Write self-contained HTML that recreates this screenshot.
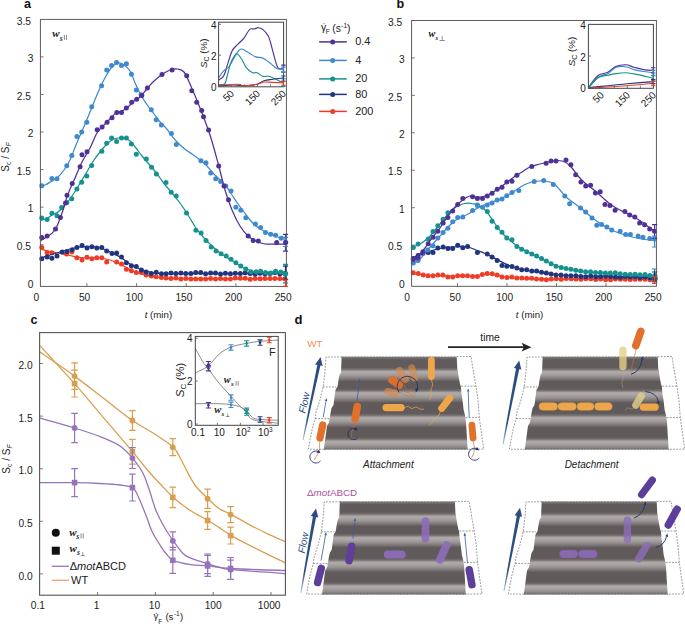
<!DOCTYPE html>
<html><head><meta charset="utf-8"><style>
html,body{margin:0;padding:0;background:#fff;width:685px;height:624px;overflow:hidden}
svg{display:block}
text{font-family:"Liberation Sans",sans-serif;fill:#222}
.tk{font-size:10.2px}
.tl{font-size:9.7px}
.pl{font-size:12.6px;font-weight:bold;fill:#111}
.yl{font-size:10px}
.wl{font-family:"Liberation Serif",serif;font-style:italic;font-weight:bold;font-size:11px}
.lg{font-size:10.9px}
.lg2{font-size:10.4px}
.lgc{font-size:11px}
.tki{font-size:10px}
.sci{font-size:11.5px}
.sca{font-size:9.8px}
.flow{font-size:10px;font-style:italic;fill:#2d4c80}
.dt{font-size:9.8px}
.dti{font-size:10px;font-style:italic}
</style></head><body>
<svg width="685" height="624" viewBox="0 0 685 624">
<text x="0" y="0" transform="translate(8.6,157) rotate(-90)" text-anchor="middle" class="yl">S<tspan dy="2.5" font-size="7">c</tspan><tspan dy="-2.5"> / S</tspan><tspan dy="2.5" font-size="7" font-style="italic">F</tspan></text>
<text x="33.4" y="287.5" text-anchor="end" class="tk">0</text><line x1="40.4" y1="244.73" x2="43.6" y2="244.73" stroke="#666" stroke-width="0.9"/><text x="31.0" y="249.9" text-anchor="end" class="tk">0.5</text><line x1="40.4" y1="207.16" x2="43.6" y2="207.16" stroke="#666" stroke-width="0.9"/><text x="33.4" y="212.4" text-anchor="end" class="tk">1</text><line x1="40.4" y1="169.59" x2="43.6" y2="169.59" stroke="#666" stroke-width="0.9"/><text x="31.0" y="174.8" text-anchor="end" class="tk">1.5</text><line x1="40.4" y1="132.02" x2="43.6" y2="132.02" stroke="#666" stroke-width="0.9"/><text x="33.4" y="137.2" text-anchor="end" class="tk">2</text><line x1="40.4" y1="94.45" x2="43.6" y2="94.45" stroke="#666" stroke-width="0.9"/><text x="31.0" y="99.7" text-anchor="end" class="tk">2.5</text><line x1="40.4" y1="56.88" x2="43.6" y2="56.88" stroke="#666" stroke-width="0.9"/><text x="33.4" y="62.1" text-anchor="end" class="tk">3</text><text x="31.0" y="24.5" text-anchor="end" class="tk">3.5</text><text x="36.3" y="300.9" text-anchor="middle" class="tk">0</text><line x1="86.9" y1="286.4" x2="86.9" y2="283.2" stroke="#666" stroke-width="0.9"/><text x="84.6" y="300.9" text-anchor="middle" class="tk">50</text><line x1="136.6" y1="286.4" x2="136.6" y2="283.2" stroke="#666" stroke-width="0.9"/><text x="134.3" y="300.9" text-anchor="middle" class="tk">100</text><line x1="186.2" y1="286.4" x2="186.2" y2="283.2" stroke="#666" stroke-width="0.9"/><text x="183.9" y="300.9" text-anchor="middle" class="tk">150</text><line x1="235.9" y1="286.4" x2="235.9" y2="283.2" stroke="#666" stroke-width="0.9"/><text x="233.6" y="300.9" text-anchor="middle" class="tk">200</text><text x="283.2" y="300.9" text-anchor="middle" class="tk">250</text><g fill="#ee3d27"><circle cx="41.8" cy="247.4" r="2.5"/><circle cx="47.1" cy="252.7" r="2.5"/><circle cx="51.9" cy="252.7" r="2.5"/><circle cx="66.5" cy="254.0" r="2.5"/><circle cx="71.8" cy="252.1" r="2.5"/><circle cx="76.9" cy="257.8" r="2.5"/><circle cx="82.0" cy="260.1" r="2.5"/><circle cx="87.0" cy="257.2" r="2.5"/><circle cx="91.9" cy="258.8" r="2.5"/><circle cx="96.8" cy="257.8" r="2.5"/><circle cx="101.8" cy="257.8" r="2.5"/><circle cx="106.7" cy="262.0" r="2.5"/><circle cx="116.6" cy="262.0" r="2.5"/><circle cx="121.5" cy="263.9" r="2.5"/><circle cx="126.4" cy="269.2" r="2.5"/><circle cx="131.4" cy="270.7" r="2.5"/><circle cx="136.3" cy="272.6" r="2.5"/><circle cx="141.4" cy="272.6" r="2.5"/><circle cx="146.2" cy="274.9" r="2.5"/><circle cx="151.3" cy="276.0" r="2.5"/><circle cx="156.2" cy="276.8" r="2.5"/><circle cx="161.4" cy="277.6" r="2.5"/><circle cx="166.1" cy="277.9" r="2.5"/><circle cx="171.0" cy="278.4" r="2.5"/><circle cx="175.9" cy="278.0" r="2.5"/><circle cx="180.9" cy="279.0" r="2.5"/><circle cx="185.8" cy="278.6" r="2.5"/><circle cx="190.8" cy="278.9" r="2.5"/><circle cx="195.7" cy="279.1" r="2.5"/><circle cx="200.7" cy="278.9" r="2.5"/><circle cx="205.6" cy="279.1" r="2.5"/><circle cx="210.6" cy="278.5" r="2.5"/><circle cx="215.5" cy="279.0" r="2.5"/><circle cx="220.5" cy="278.5" r="2.5"/><circle cx="225.4" cy="279.1" r="2.5"/><circle cx="230.4" cy="279.1" r="2.5"/><circle cx="235.3" cy="278.1" r="2.5"/><circle cx="240.3" cy="278.2" r="2.5"/><circle cx="245.2" cy="278.3" r="2.5"/><circle cx="250.2" cy="279.2" r="2.5"/><circle cx="255.1" cy="278.5" r="2.5"/><circle cx="260.1" cy="278.8" r="2.5"/><circle cx="265.0" cy="278.4" r="2.5"/><circle cx="270.0" cy="278.6" r="2.5"/><circle cx="274.9" cy="278.5" r="2.5"/><circle cx="279.9" cy="278.4" r="2.5"/><circle cx="284.8" cy="278.7" r="2.5"/></g><path d="M40.4,249.0 C42.0,249.4 46.7,250.8 50.0,251.5 C53.3,252.2 56.7,252.8 60.0,253.5 C63.3,254.2 66.7,254.8 70.0,255.5 C73.3,256.2 76.7,257.1 80.0,257.5 C83.3,257.9 86.7,257.9 90.0,258.0 C93.3,258.1 96.7,257.7 100.0,258.0 C103.3,258.3 106.7,259.0 110.0,260.0 C113.3,261.0 116.7,262.4 120.0,264.0 C123.3,265.6 126.7,267.9 130.0,269.5 C133.3,271.1 136.7,272.4 140.0,273.5 C143.3,274.6 146.7,275.3 150.0,276.0 C153.3,276.7 155.0,277.1 160.0,277.5 C165.0,277.9 159.0,278.2 180.0,278.5 C201.0,278.8 268.3,278.9 286.0,279.0" fill="none" stroke="#ee3d27" stroke-width="1.25" /><g fill="#21357f"><circle cx="41.8" cy="258.8" r="2.5"/><circle cx="47.1" cy="256.9" r="2.5"/><circle cx="51.9" cy="258.2" r="2.5"/><circle cx="57.0" cy="255.9" r="2.5"/><circle cx="62.1" cy="252.1" r="2.5"/><circle cx="67.0" cy="251.4" r="2.5"/><circle cx="72.2" cy="249.8" r="2.5"/><circle cx="76.9" cy="247.4" r="2.5"/><circle cx="82.0" cy="245.5" r="2.5"/><circle cx="87.0" cy="247.9" r="2.5"/><circle cx="91.9" cy="246.8" r="2.5"/><circle cx="96.8" cy="247.9" r="2.5"/><circle cx="101.8" cy="247.6" r="2.5"/><circle cx="106.7" cy="251.0" r="2.5"/><circle cx="112.0" cy="253.6" r="2.5"/><circle cx="116.6" cy="253.1" r="2.5"/><circle cx="121.5" cy="256.9" r="2.5"/><circle cx="126.4" cy="262.7" r="2.5"/><circle cx="131.4" cy="265.8" r="2.5"/><circle cx="136.3" cy="266.4" r="2.5"/><circle cx="141.4" cy="270.0" r="2.5"/><circle cx="146.2" cy="272.0" r="2.5"/><circle cx="151.3" cy="273.4" r="2.5"/><circle cx="156.2" cy="272.2" r="2.5"/><circle cx="161.4" cy="273.8" r="2.5"/><circle cx="166.1" cy="273.8" r="2.5"/><circle cx="171.0" cy="272.9" r="2.5"/><circle cx="175.9" cy="273.4" r="2.5"/><circle cx="180.9" cy="273.1" r="2.5"/><circle cx="185.8" cy="273.5" r="2.5"/><circle cx="190.8" cy="273.5" r="2.5"/><circle cx="195.7" cy="272.6" r="2.5"/><circle cx="200.7" cy="272.5" r="2.5"/><circle cx="205.6" cy="273.8" r="2.5"/><circle cx="210.6" cy="272.9" r="2.5"/><circle cx="215.5" cy="272.9" r="2.5"/><circle cx="220.5" cy="274.1" r="2.5"/><circle cx="225.4" cy="273.3" r="2.5"/><circle cx="230.4" cy="273.8" r="2.5"/><circle cx="235.3" cy="273.3" r="2.5"/><circle cx="240.3" cy="273.5" r="2.5"/><circle cx="245.2" cy="272.7" r="2.5"/><circle cx="250.2" cy="273.5" r="2.5"/><circle cx="255.1" cy="273.9" r="2.5"/><circle cx="260.1" cy="273.3" r="2.5"/><circle cx="265.0" cy="273.7" r="2.5"/><circle cx="270.0" cy="273.6" r="2.5"/><circle cx="274.9" cy="272.6" r="2.5"/><circle cx="279.9" cy="273.7" r="2.5"/><circle cx="284.8" cy="273.4" r="2.5"/></g><path d="M40.4,258.0 C42.0,257.5 46.7,256.0 50.0,255.0 C53.3,254.0 56.7,253.0 60.0,252.0 C63.3,251.0 66.7,249.8 70.0,249.0 C73.3,248.2 76.7,247.4 80.0,247.0 C83.3,246.6 86.7,246.3 90.0,246.5 C93.3,246.7 96.7,247.1 100.0,248.0 C103.3,248.9 106.7,250.5 110.0,252.0 C113.3,253.5 116.7,255.0 120.0,257.0 C123.3,259.0 126.7,262.0 130.0,264.0 C133.3,266.0 136.7,267.7 140.0,269.0 C143.3,270.3 146.7,271.2 150.0,272.0 C153.3,272.8 151.7,273.2 160.0,273.5 C168.3,273.8 179.0,273.5 200.0,273.5 C221.0,273.5 271.7,273.5 286.0,273.5" fill="none" stroke="#21357f" stroke-width="1.25" /><g fill="#16918f"><circle cx="41.8" cy="218.0" r="2.5"/><circle cx="47.1" cy="219.5" r="2.5"/><circle cx="51.9" cy="213.2" r="2.5"/><circle cx="57.0" cy="215.7" r="2.5"/><circle cx="61.7" cy="207.5" r="2.5"/><circle cx="66.8" cy="202.4" r="2.5"/><circle cx="71.8" cy="198.7" r="2.5"/><circle cx="76.9" cy="188.9" r="2.5"/><circle cx="81.7" cy="182.3" r="2.5"/><circle cx="86.8" cy="175.9" r="2.5"/><circle cx="91.7" cy="165.5" r="2.5"/><circle cx="101.8" cy="151.2" r="2.5"/><circle cx="106.7" cy="143.3" r="2.5"/><circle cx="111.6" cy="138.0" r="2.5"/><circle cx="116.6" cy="141.4" r="2.5"/><circle cx="121.5" cy="138.0" r="2.5"/><circle cx="126.4" cy="138.0" r="2.5"/><circle cx="131.4" cy="144.0" r="2.5"/><circle cx="136.3" cy="154.3" r="2.5"/><circle cx="146.3" cy="159.1" r="2.5"/><circle cx="151.5" cy="167.2" r="2.5"/><circle cx="156.4" cy="173.9" r="2.5"/><circle cx="166.0" cy="182.6" r="2.5"/><circle cx="171.2" cy="192.2" r="2.5"/><circle cx="176.2" cy="196.0" r="2.5"/><circle cx="186.5" cy="212.9" r="2.5"/><circle cx="195.9" cy="230.2" r="2.5"/><circle cx="201.1" cy="233.1" r="2.5"/><circle cx="206.0" cy="240.5" r="2.5"/><circle cx="211.2" cy="247.0" r="2.5"/><circle cx="216.1" cy="251.0" r="2.5"/><circle cx="221.1" cy="253.7" r="2.5"/><circle cx="226.2" cy="256.0" r="2.5"/><circle cx="231.0" cy="259.3" r="2.5"/><circle cx="235.9" cy="262.7" r="2.5"/><circle cx="240.8" cy="266.1" r="2.5"/><circle cx="245.8" cy="269.0" r="2.5"/><circle cx="250.9" cy="271.7" r="2.5"/><circle cx="256.1" cy="271.7" r="2.5"/><circle cx="260.6" cy="271.2" r="2.5"/><circle cx="265.5" cy="272.4" r="2.5"/><circle cx="270.7" cy="273.0" r="2.5"/><circle cx="275.6" cy="271.2" r="2.5"/><circle cx="280.8" cy="271.9" r="2.5"/><circle cx="285.7" cy="273.5" r="2.5"/></g><path d="M40.4,220.0 C41.3,219.8 44.1,219.8 46.0,219.0 C47.9,218.2 50.0,216.2 52.0,215.0 C54.0,213.8 56.0,213.5 58.0,212.0 C60.0,210.5 62.0,208.2 64.0,206.0 C66.0,203.8 68.0,201.7 70.0,199.0 C72.0,196.3 74.0,193.2 76.0,190.0 C78.0,186.8 80.0,183.3 82.0,180.0 C84.0,176.7 86.0,173.3 88.0,170.0 C90.0,166.7 92.0,163.0 94.0,160.0 C96.0,157.0 98.0,154.5 100.0,152.0 C102.0,149.5 104.0,147.0 106.0,145.0 C108.0,143.0 110.0,141.2 112.0,140.0 C114.0,138.8 116.0,138.3 118.0,138.0 C120.0,137.7 122.0,137.5 124.0,138.0 C126.0,138.5 128.0,139.3 130.0,141.0 C132.0,142.7 134.0,145.5 136.0,148.0 C138.0,150.5 140.0,153.5 142.0,156.0 C144.0,158.5 146.0,160.7 148.0,163.0 C150.0,165.3 152.0,167.5 154.0,170.0 C156.0,172.5 158.0,175.3 160.0,178.0 C162.0,180.7 164.0,183.5 166.0,186.0 C168.0,188.5 169.7,190.2 172.0,193.0 C174.3,195.8 177.3,199.3 180.0,203.0 C182.7,206.7 185.3,210.8 188.0,215.0 C190.7,219.2 193.3,224.2 196.0,228.0 C198.7,231.8 201.3,235.0 204.0,238.0 C206.7,241.0 209.3,243.5 212.0,246.0 C214.7,248.5 217.3,251.0 220.0,253.0 C222.7,255.0 225.3,256.3 228.0,258.0 C230.7,259.7 233.3,261.3 236.0,263.0 C238.7,264.7 241.3,266.7 244.0,268.0 C246.7,269.3 249.3,270.2 252.0,271.0 C254.7,271.8 257.0,272.2 260.0,272.5 C263.0,272.8 265.7,272.9 270.0,273.0 C274.3,273.1 283.3,273.0 286.0,273.0" fill="none" stroke="#16918f" stroke-width="1.25" /><g fill="#3f89ce"><circle cx="41.8" cy="185.8" r="2.5"/><circle cx="51.9" cy="178.4" r="2.5"/><circle cx="57.0" cy="178.8" r="2.5"/><circle cx="66.8" cy="165.7" r="2.5"/><circle cx="71.8" cy="155.6" r="2.5"/><circle cx="76.9" cy="136.6" r="2.5"/><circle cx="81.7" cy="131.9" r="2.5"/><circle cx="86.8" cy="122.2" r="2.5"/><circle cx="91.7" cy="106.8" r="2.5"/><circle cx="101.6" cy="85.7" r="2.5"/><circle cx="106.7" cy="70.1" r="2.5"/><circle cx="111.6" cy="65.6" r="2.5"/><circle cx="116.6" cy="62.5" r="2.5"/><circle cx="121.5" cy="65.6" r="2.5"/><circle cx="126.4" cy="63.7" r="2.5"/><circle cx="131.4" cy="74.3" r="2.5"/><circle cx="136.3" cy="89.9" r="2.5"/><circle cx="141.1" cy="94.8" r="2.5"/><circle cx="151.3" cy="109.8" r="2.5"/><circle cx="156.2" cy="119.7" r="2.5"/><circle cx="161.4" cy="125.0" r="2.5"/><circle cx="171.4" cy="133.5" r="2.5"/><circle cx="176.3" cy="144.5" r="2.5"/><circle cx="200.9" cy="160.8" r="2.5"/><circle cx="206.0" cy="162.8" r="2.5"/><circle cx="210.7" cy="172.9" r="2.5"/><circle cx="215.7" cy="178.7" r="2.5"/><circle cx="220.6" cy="181.4" r="2.5"/><circle cx="225.8" cy="185.9" r="2.5"/><circle cx="231.0" cy="190.9" r="2.5"/><circle cx="235.9" cy="207.3" r="2.5"/><circle cx="240.8" cy="210.2" r="2.5"/><circle cx="245.8" cy="217.8" r="2.5"/><circle cx="255.4" cy="224.1" r="2.5"/><circle cx="260.6" cy="227.5" r="2.5"/><circle cx="265.5" cy="232.4" r="2.5"/><circle cx="270.7" cy="234.2" r="2.5"/><circle cx="275.6" cy="235.3" r="2.5"/><circle cx="281.2" cy="238.2" r="2.5"/></g><path d="M40.4,186.0 C41.2,185.8 43.1,185.8 45.0,185.0 C46.9,184.2 49.8,182.3 52.0,181.0 C54.2,179.7 56.0,178.8 58.0,177.0 C60.0,175.2 62.0,172.8 64.0,170.0 C66.0,167.2 68.0,164.2 70.0,160.0 C72.0,155.8 74.0,149.8 76.0,145.0 C78.0,140.2 80.0,135.7 82.0,131.0 C84.0,126.3 86.0,121.8 88.0,117.0 C90.0,112.2 92.0,106.8 94.0,102.0 C96.0,97.2 98.0,92.3 100.0,88.0 C102.0,83.7 104.0,79.5 106.0,76.0 C108.0,72.5 110.0,69.2 112.0,67.0 C114.0,64.8 116.0,63.3 118.0,63.0 C120.0,62.7 122.0,63.7 124.0,65.0 C126.0,66.3 128.0,67.7 130.0,71.0 C132.0,74.3 134.0,80.7 136.0,85.0 C138.0,89.3 140.0,93.5 142.0,97.0 C144.0,100.5 146.0,103.2 148.0,106.0 C150.0,108.8 152.0,111.3 154.0,114.0 C156.0,116.7 158.0,119.7 160.0,122.0 C162.0,124.3 164.0,125.7 166.0,128.0 C168.0,130.3 170.0,133.5 172.0,136.0 C174.0,138.5 175.7,140.7 178.0,143.0 C180.3,145.3 183.7,148.2 186.0,150.0 C188.3,151.8 189.7,152.3 192.0,154.0 C194.3,155.7 197.7,158.2 200.0,160.0 C202.3,161.8 204.0,163.0 206.0,165.0 C208.0,167.0 210.0,169.8 212.0,172.0 C214.0,174.2 215.7,175.7 218.0,178.0 C220.3,180.3 223.7,183.2 226.0,186.0 C228.3,188.8 230.0,192.0 232.0,195.0 C234.0,198.0 236.0,201.2 238.0,204.0 C240.0,206.8 242.0,209.3 244.0,212.0 C246.0,214.7 248.0,217.7 250.0,220.0 C252.0,222.3 254.0,224.3 256.0,226.0 C258.0,227.7 259.7,228.7 262.0,230.0 C264.3,231.3 267.3,232.8 270.0,234.0 C272.7,235.2 275.3,236.1 278.0,237.0 C280.7,237.9 284.7,239.1 286.0,239.5" fill="none" stroke="#3f89ce" stroke-width="1.25" /><g fill="#4f3197"><circle cx="41.8" cy="237.5" r="2.5"/><circle cx="47.1" cy="236.0" r="2.5"/><circle cx="55.5" cy="229.0" r="2.5"/><circle cx="60.4" cy="217.6" r="2.5"/><circle cx="65.5" cy="203.0" r="2.5"/><circle cx="67.0" cy="195.3" r="2.5"/><circle cx="72.2" cy="183.5" r="2.5"/><circle cx="80.1" cy="166.8" r="2.5"/><circle cx="82.0" cy="154.7" r="2.5"/><circle cx="87.0" cy="151.8" r="2.5"/><circle cx="97.2" cy="129.8" r="2.5"/><circle cx="102.1" cy="127.1" r="2.5"/><circle cx="107.1" cy="122.2" r="2.5"/><circle cx="112.0" cy="117.7" r="2.5"/><circle cx="116.8" cy="112.5" r="2.5"/><circle cx="121.5" cy="112.5" r="2.5"/><circle cx="126.4" cy="108.0" r="2.5"/><circle cx="131.7" cy="102.2" r="2.5"/><circle cx="136.7" cy="99.2" r="2.5"/><circle cx="141.8" cy="95.4" r="2.5"/><circle cx="147.4" cy="88.0" r="2.5"/><circle cx="162.0" cy="74.6" r="2.5"/><circle cx="172.1" cy="70.1" r="2.5"/><circle cx="186.7" cy="75.7" r="2.5"/><circle cx="191.8" cy="90.7" r="2.5"/><circle cx="196.7" cy="102.2" r="2.5"/><circle cx="201.7" cy="110.4" r="2.5"/><circle cx="203.5" cy="116.7" r="2.5"/><circle cx="208.6" cy="130.0" r="2.5"/><circle cx="218.7" cy="166.0" r="2.5"/><circle cx="224.0" cy="185.9" r="2.5"/><circle cx="228.5" cy="199.8" r="2.5"/><circle cx="248.2" cy="236.0" r="2.5"/><circle cx="253.2" cy="240.5" r="2.5"/><circle cx="258.3" cy="240.9" r="2.5"/><circle cx="276.7" cy="242.5" r="2.5"/><circle cx="285.7" cy="242.5" r="2.5"/></g><path d="M40.4,240.7 C41.2,240.2 42.6,239.8 45.0,238.0 C47.4,236.2 52.2,234.2 55.0,230.0 C57.8,225.8 59.8,219.0 62.0,213.0 C64.2,207.0 65.8,199.8 68.0,194.0 C70.2,188.2 72.7,183.3 75.0,178.0 C77.3,172.7 79.5,167.0 82.0,162.0 C84.5,157.0 87.5,152.8 90.0,148.0 C92.5,143.2 94.7,136.8 97.0,133.0 C99.3,129.2 101.8,127.3 104.0,125.0 C106.2,122.7 108.0,121.0 110.0,119.0 C112.0,117.0 114.0,114.3 116.0,113.0 C118.0,111.7 120.0,112.0 122.0,111.0 C124.0,110.0 126.0,108.7 128.0,107.0 C130.0,105.3 132.0,102.7 134.0,101.0 C136.0,99.3 138.0,98.8 140.0,97.0 C142.0,95.2 144.0,92.3 146.0,90.0 C148.0,87.7 149.7,85.3 152.0,83.0 C154.3,80.7 157.0,78.2 160.0,76.0 C163.0,73.8 167.0,71.2 170.0,70.0 C173.0,68.8 175.7,68.7 178.0,69.0 C180.3,69.3 182.0,69.5 184.0,72.0 C186.0,74.5 187.3,78.0 190.0,84.0 C192.7,90.0 196.7,99.5 200.0,108.0 C203.3,116.5 207.0,125.8 210.0,135.0 C213.0,144.2 215.5,153.8 218.0,163.0 C220.5,172.2 222.7,182.2 225.0,190.0 C227.3,197.8 229.5,204.0 232.0,210.0 C234.5,216.0 237.3,221.7 240.0,226.0 C242.7,230.3 245.3,233.5 248.0,236.0 C250.7,238.5 253.2,239.7 256.0,241.0 C258.8,242.3 261.8,243.5 265.0,244.0 C268.2,244.5 271.5,244.0 275.0,244.0 C278.5,244.0 284.2,244.0 286.0,244.0" fill="none" stroke="#4f3197" stroke-width="1.25" /><rect x="40.4" y="19.4" width="246.0" height="267.0" fill="none" stroke="#555" stroke-width="0.95"/><text x="158.4" y="317.6" text-anchor="middle" class="tl"><tspan font-style="italic">t</tspan> (min)</text><text x="24.0" y="7.9" class="pl">a</text>
<text x="404.6" y="287.8" text-anchor="end" class="tk">0</text><line x1="411.6" y1="245.15" x2="414.8" y2="245.15" stroke="#666" stroke-width="0.9"/><text x="402.2" y="250.4" text-anchor="end" class="tk">0.5</text><line x1="411.6" y1="207.70" x2="414.8" y2="207.70" stroke="#666" stroke-width="0.9"/><text x="404.6" y="212.9" text-anchor="end" class="tk">1</text><line x1="411.6" y1="170.25" x2="414.8" y2="170.25" stroke="#666" stroke-width="0.9"/><text x="402.2" y="175.4" text-anchor="end" class="tk">1.5</text><line x1="411.6" y1="132.80" x2="414.8" y2="132.80" stroke="#666" stroke-width="0.9"/><text x="404.6" y="138.0" text-anchor="end" class="tk">2</text><line x1="411.6" y1="95.35" x2="414.8" y2="95.35" stroke="#666" stroke-width="0.9"/><text x="402.2" y="100.6" text-anchor="end" class="tk">2.5</text><line x1="411.6" y1="57.90" x2="414.8" y2="57.90" stroke="#666" stroke-width="0.9"/><text x="404.6" y="63.1" text-anchor="end" class="tk">3</text><text x="402.2" y="25.6" text-anchor="end" class="tk">3.5</text><text x="407.0" y="300.9" text-anchor="middle" class="tk">0</text><line x1="457.5" y1="286.3" x2="457.5" y2="283.1" stroke="#666" stroke-width="0.9"/><text x="455.2" y="300.9" text-anchor="middle" class="tk">50</text><line x1="507.0" y1="286.3" x2="507.0" y2="283.1" stroke="#666" stroke-width="0.9"/><text x="504.7" y="300.9" text-anchor="middle" class="tk">100</text><line x1="556.5" y1="286.3" x2="556.5" y2="283.1" stroke="#666" stroke-width="0.9"/><text x="554.2" y="300.9" text-anchor="middle" class="tk">150</text><line x1="606.0" y1="286.3" x2="606.0" y2="283.1" stroke="#666" stroke-width="0.9"/><text x="603.7" y="300.9" text-anchor="middle" class="tk">200</text><text x="653.2" y="300.9" text-anchor="middle" class="tk">250</text><g fill="#ee3d27"><circle cx="413.3" cy="272.7" r="2.5"/><circle cx="418.2" cy="273.4" r="2.5"/><circle cx="423.2" cy="275.0" r="2.5"/><circle cx="428.1" cy="275.8" r="2.5"/><circle cx="433.0" cy="275.8" r="2.5"/><circle cx="437.9" cy="275.0" r="2.5"/><circle cx="442.9" cy="275.0" r="2.5"/><circle cx="447.8" cy="277.0" r="2.5"/><circle cx="452.7" cy="277.0" r="2.5"/><circle cx="457.7" cy="275.8" r="2.5"/><circle cx="462.6" cy="275.8" r="2.5"/><circle cx="467.5" cy="275.8" r="2.5"/><circle cx="472.5" cy="276.5" r="2.5"/><circle cx="477.4" cy="276.5" r="2.5"/><circle cx="482.3" cy="274.6" r="2.5"/><circle cx="487.2" cy="273.4" r="2.5"/><circle cx="492.2" cy="273.8" r="2.5"/><circle cx="497.1" cy="275.0" r="2.5"/><circle cx="502.0" cy="277.0" r="2.5"/><circle cx="507.0" cy="277.5" r="2.5"/><circle cx="511.9" cy="277.0" r="2.5"/><circle cx="516.8" cy="278.0" r="2.5"/><circle cx="521.8" cy="278.0" r="2.5"/><circle cx="526.7" cy="278.2" r="2.5"/><circle cx="531.6" cy="278.2" r="2.5"/><circle cx="536.5" cy="278.9" r="2.5"/><circle cx="541.5" cy="279.2" r="2.5"/><circle cx="546.4" cy="279.8" r="2.5"/><circle cx="551.3" cy="279.0" r="2.5"/><circle cx="556.3" cy="278.7" r="2.5"/><circle cx="561.2" cy="279.3" r="2.5"/><circle cx="566.1" cy="278.6" r="2.5"/><circle cx="571.1" cy="278.8" r="2.5"/><circle cx="576.0" cy="279.1" r="2.5"/><circle cx="580.9" cy="279.3" r="2.5"/><circle cx="585.8" cy="278.8" r="2.5"/><circle cx="590.8" cy="278.7" r="2.5"/><circle cx="595.7" cy="279.6" r="2.5"/><circle cx="600.6" cy="279.0" r="2.5"/><circle cx="605.6" cy="279.8" r="2.5"/><circle cx="610.5" cy="279.7" r="2.5"/><circle cx="615.4" cy="279.1" r="2.5"/><circle cx="620.4" cy="279.2" r="2.5"/><circle cx="625.3" cy="279.2" r="2.5"/><circle cx="630.2" cy="279.4" r="2.5"/><circle cx="635.1" cy="279.3" r="2.5"/><circle cx="640.1" cy="279.3" r="2.5"/><circle cx="645.0" cy="279.3" r="2.5"/><circle cx="649.9" cy="279.7" r="2.5"/><circle cx="654.9" cy="279.2" r="2.5"/></g><path d="M411.5,273.0 C412.9,273.2 416.9,274.1 420.0,274.5 C423.1,274.9 425.0,275.2 430.0,275.5 C435.0,275.8 443.3,275.9 450.0,276.0 C456.7,276.1 465.0,276.2 470.0,276.0 C475.0,275.8 477.0,275.3 480.0,275.0 C483.0,274.7 485.3,274.0 488.0,274.0 C490.7,274.0 493.2,274.5 496.0,275.0 C498.8,275.5 501.0,276.5 505.0,277.0 C509.0,277.5 514.2,277.7 520.0,278.0 C525.8,278.3 517.3,278.8 540.0,279.0 C562.7,279.2 636.7,279.3 656.0,279.4" fill="none" stroke="#ee3d27" stroke-width="1.25" /><g fill="#21357f"><circle cx="413.3" cy="258.5" r="2.5"/><circle cx="418.1" cy="255.5" r="2.5"/><circle cx="422.9" cy="253.4" r="2.5"/><circle cx="428.2" cy="252.5" r="2.5"/><circle cx="433.0" cy="252.5" r="2.5"/><circle cx="437.8" cy="248.1" r="2.5"/><circle cx="443.1" cy="246.9" r="2.5"/><circle cx="447.9" cy="248.6" r="2.5"/><circle cx="452.7" cy="248.6" r="2.5"/><circle cx="457.7" cy="245.3" r="2.5"/><circle cx="462.8" cy="247.7" r="2.5"/><circle cx="467.6" cy="246.5" r="2.5"/><circle cx="477.4" cy="252.5" r="2.5"/><circle cx="487.3" cy="254.1" r="2.5"/><circle cx="492.1" cy="257.0" r="2.5"/><circle cx="497.2" cy="260.6" r="2.5"/><circle cx="502.0" cy="265.4" r="2.5"/><circle cx="506.8" cy="266.2" r="2.5"/><circle cx="512.0" cy="266.6" r="2.5"/><circle cx="516.9" cy="268.1" r="2.5"/><circle cx="521.7" cy="269.8" r="2.5"/><circle cx="526.7" cy="269.8" r="2.5"/><circle cx="531.8" cy="271.0" r="2.5"/><circle cx="536.6" cy="271.0" r="2.5"/><circle cx="541.5" cy="272.2" r="2.5"/><circle cx="546.3" cy="273.0" r="2.5"/><circle cx="551.1" cy="274.1" r="2.5"/><circle cx="556.0" cy="275.0" r="2.5"/><circle cx="561.0" cy="275.0" r="2.5"/><circle cx="566.0" cy="275.8" r="2.5"/><circle cx="570.9" cy="275.8" r="2.5"/><circle cx="575.9" cy="275.7" r="2.5"/><circle cx="580.8" cy="276.5" r="2.5"/><circle cx="585.8" cy="276.7" r="2.5"/><circle cx="590.7" cy="275.9" r="2.5"/><circle cx="595.7" cy="276.7" r="2.5"/><circle cx="600.6" cy="276.4" r="2.5"/><circle cx="605.6" cy="276.2" r="2.5"/><circle cx="610.5" cy="276.5" r="2.5"/><circle cx="615.5" cy="277.0" r="2.5"/><circle cx="620.4" cy="277.2" r="2.5"/><circle cx="625.4" cy="276.4" r="2.5"/><circle cx="630.3" cy="277.1" r="2.5"/><circle cx="635.3" cy="276.6" r="2.5"/><circle cx="640.2" cy="277.4" r="2.5"/><circle cx="645.2" cy="277.1" r="2.5"/><circle cx="650.1" cy="277.7" r="2.5"/><circle cx="655.1" cy="277.9" r="2.5"/></g><path d="M411.5,259.0 C412.9,258.2 416.9,255.3 420.0,254.0 C423.1,252.7 426.7,251.9 430.0,251.0 C433.3,250.1 436.7,249.2 440.0,248.5 C443.3,247.8 446.7,247.3 450.0,247.0 C453.3,246.7 457.0,246.5 460.0,246.5 C463.0,246.5 465.3,246.4 468.0,247.0 C470.7,247.6 473.0,248.8 476.0,250.0 C479.0,251.2 482.7,252.5 486.0,254.0 C489.3,255.5 492.7,257.3 496.0,259.0 C499.3,260.7 502.7,262.5 506.0,264.0 C509.3,265.5 512.0,266.8 516.0,268.0 C520.0,269.2 525.2,270.2 530.0,271.0 C534.8,271.8 540.0,272.3 545.0,273.0 C550.0,273.7 554.2,274.5 560.0,275.0 C565.8,275.5 570.0,275.7 580.0,276.0 C590.0,276.3 607.3,276.8 620.0,277.0 C632.7,277.2 650.0,277.4 656.0,277.5" fill="none" stroke="#21357f" stroke-width="1.25" /><g fill="#16918f"><circle cx="413.3" cy="247.4" r="2.5"/><circle cx="418.1" cy="244.0" r="2.5"/><circle cx="428.2" cy="239.0" r="2.5"/><circle cx="433.0" cy="231.6" r="2.5"/><circle cx="437.8" cy="225.8" r="2.5"/><circle cx="443.1" cy="219.3" r="2.5"/><circle cx="447.9" cy="212.8" r="2.5"/><circle cx="477.4" cy="204.9" r="2.5"/><circle cx="487.3" cy="211.6" r="2.5"/><circle cx="492.1" cy="221.2" r="2.5"/><circle cx="497.2" cy="227.5" r="2.5"/><circle cx="502.0" cy="232.3" r="2.5"/><circle cx="506.8" cy="238.0" r="2.5"/><circle cx="512.0" cy="239.7" r="2.5"/><circle cx="516.9" cy="246.5" r="2.5"/><circle cx="521.7" cy="249.3" r="2.5"/><circle cx="526.7" cy="251.7" r="2.5"/><circle cx="531.8" cy="254.1" r="2.5"/><circle cx="536.6" cy="256.1" r="2.5"/><circle cx="541.5" cy="258.5" r="2.5"/><circle cx="546.3" cy="260.9" r="2.5"/><circle cx="551.1" cy="263.8" r="2.5"/><circle cx="556.0" cy="266.2" r="2.5"/><circle cx="561.2" cy="267.4" r="2.5"/><circle cx="566.0" cy="268.6" r="2.5"/><circle cx="570.9" cy="269.3" r="2.5"/><circle cx="575.7" cy="270.2" r="2.5"/><circle cx="580.6" cy="271.1" r="2.5"/><circle cx="585.6" cy="271.8" r="2.5"/><circle cx="590.5" cy="271.8" r="2.5"/><circle cx="595.5" cy="272.4" r="2.5"/><circle cx="600.4" cy="272.6" r="2.5"/><circle cx="605.4" cy="273.1" r="2.5"/><circle cx="610.3" cy="273.0" r="2.5"/><circle cx="615.3" cy="272.7" r="2.5"/><circle cx="620.2" cy="273.8" r="2.5"/><circle cx="625.2" cy="274.2" r="2.5"/><circle cx="630.1" cy="274.5" r="2.5"/><circle cx="635.1" cy="274.3" r="2.5"/><circle cx="640.0" cy="274.8" r="2.5"/><circle cx="645.0" cy="274.5" r="2.5"/><circle cx="649.9" cy="275.5" r="2.5"/><circle cx="654.9" cy="275.5" r="2.5"/></g><path d="M411.5,247.5 C412.9,246.9 417.2,245.6 420.0,244.0 C422.8,242.4 425.3,240.5 428.0,238.0 C430.7,235.5 433.3,232.2 436.0,229.0 C438.7,225.8 441.3,222.2 444.0,219.0 C446.7,215.8 449.3,212.3 452.0,210.0 C454.7,207.7 457.5,206.1 460.0,205.0 C462.5,203.9 464.7,203.4 467.0,203.2 C469.3,203.0 471.8,203.5 474.0,204.0 C476.2,204.5 478.0,204.8 480.0,206.0 C482.0,207.2 484.0,208.8 486.0,211.0 C488.0,213.2 490.0,216.2 492.0,219.0 C494.0,221.8 496.0,225.3 498.0,228.0 C500.0,230.7 501.7,232.7 504.0,235.0 C506.3,237.3 509.3,239.8 512.0,242.0 C514.7,244.2 517.0,246.2 520.0,248.0 C523.0,249.8 526.7,251.3 530.0,253.0 C533.3,254.7 536.7,256.3 540.0,258.0 C543.3,259.7 546.7,261.5 550.0,263.0 C553.3,264.5 556.7,265.9 560.0,267.0 C563.3,268.1 565.8,268.7 570.0,269.5 C574.2,270.3 580.0,271.3 585.0,272.0 C590.0,272.7 594.2,273.1 600.0,273.5 C605.8,273.9 610.7,274.2 620.0,274.5 C629.3,274.8 650.0,275.3 656.0,275.5" fill="none" stroke="#16918f" stroke-width="1.25" /><g fill="#3f89ce"><circle cx="413.3" cy="263.0" r="2.5"/><circle cx="418.1" cy="260.6" r="2.5"/><circle cx="427.7" cy="250.1" r="2.5"/><circle cx="433.0" cy="245.7" r="2.5"/><circle cx="437.8" cy="238.0" r="2.5"/><circle cx="443.1" cy="232.5" r="2.5"/><circle cx="447.9" cy="228.2" r="2.5"/><circle cx="452.7" cy="221.7" r="2.5"/><circle cx="457.7" cy="217.4" r="2.5"/><circle cx="462.8" cy="216.9" r="2.5"/><circle cx="472.6" cy="210.4" r="2.5"/><circle cx="477.4" cy="205.6" r="2.5"/><circle cx="482.5" cy="207.3" r="2.5"/><circle cx="487.3" cy="204.9" r="2.5"/><circle cx="492.1" cy="203.0" r="2.5"/><circle cx="497.2" cy="200.1" r="2.5"/><circle cx="502.0" cy="198.9" r="2.5"/><circle cx="506.8" cy="195.7" r="2.5"/><circle cx="512.0" cy="192.4" r="2.5"/><circle cx="518.8" cy="190.5" r="2.5"/><circle cx="534.2" cy="181.6" r="2.5"/><circle cx="543.7" cy="180.4" r="2.5"/><circle cx="553.3" cy="184.5" r="2.5"/><circle cx="564.8" cy="196.0" r="2.5"/><circle cx="569.6" cy="203.7" r="2.5"/><circle cx="580.5" cy="208.0" r="2.5"/><circle cx="585.7" cy="212.1" r="2.5"/><circle cx="592.0" cy="218.1" r="2.5"/><circle cx="596.8" cy="225.3" r="2.5"/><circle cx="601.6" cy="224.6" r="2.5"/><circle cx="606.9" cy="227.0" r="2.5"/><circle cx="611.7" cy="230.1" r="2.5"/><circle cx="620.1" cy="231.3" r="2.5"/><circle cx="625.6" cy="234.4" r="2.5"/><circle cx="630.4" cy="234.4" r="2.5"/><circle cx="638.1" cy="236.1" r="2.5"/><circle cx="642.9" cy="237.3" r="2.5"/><circle cx="649.7" cy="238.5" r="2.5"/><circle cx="654.5" cy="238.5" r="2.5"/></g><path d="M411.5,264.0 C412.6,263.5 415.8,262.8 418.0,261.0 C420.2,259.2 422.7,255.7 425.0,253.0 C427.3,250.3 429.5,247.8 432.0,245.0 C434.5,242.2 437.3,239.0 440.0,236.0 C442.7,233.0 445.3,229.7 448.0,227.0 C450.7,224.3 453.3,221.8 456.0,220.0 C458.7,218.2 461.7,217.2 464.0,216.0 C466.3,214.8 468.0,214.2 470.0,213.0 C472.0,211.8 473.7,210.3 476.0,209.0 C478.3,207.7 481.3,206.2 484.0,205.0 C486.7,203.8 489.3,203.0 492.0,202.0 C494.7,201.0 497.3,200.2 500.0,199.0 C502.7,197.8 505.3,196.5 508.0,195.0 C510.7,193.5 513.3,191.7 516.0,190.0 C518.7,188.3 521.3,186.3 524.0,185.0 C526.7,183.7 529.3,182.7 532.0,182.0 C534.7,181.3 537.3,181.1 540.0,181.0 C542.7,180.9 545.7,181.0 548.0,181.5 C550.3,182.0 552.0,182.6 554.0,184.0 C556.0,185.4 558.0,187.8 560.0,190.0 C562.0,192.2 563.7,194.8 566.0,197.0 C568.3,199.2 571.3,201.0 574.0,203.0 C576.7,205.0 579.3,206.8 582.0,209.0 C584.7,211.2 587.3,213.8 590.0,216.0 C592.7,218.2 595.3,220.2 598.0,222.0 C600.7,223.8 603.3,225.5 606.0,227.0 C608.7,228.5 611.3,229.8 614.0,231.0 C616.7,232.2 619.0,233.0 622.0,234.0 C625.0,235.0 628.7,236.2 632.0,237.0 C635.3,237.8 638.0,238.3 642.0,239.0 C646.0,239.7 653.7,240.7 656.0,241.0" fill="none" stroke="#3f89ce" stroke-width="1.25" /><g fill="#4f3197"><circle cx="413.3" cy="259.4" r="2.5"/><circle cx="418.1" cy="257.7" r="2.5"/><circle cx="422.9" cy="251.7" r="2.5"/><circle cx="428.2" cy="243.8" r="2.5"/><circle cx="433.0" cy="237.3" r="2.5"/><circle cx="437.8" cy="231.3" r="2.5"/><circle cx="443.1" cy="222.9" r="2.5"/><circle cx="447.9" cy="217.6" r="2.5"/><circle cx="452.7" cy="210.9" r="2.5"/><circle cx="457.7" cy="204.4" r="2.5"/><circle cx="462.8" cy="198.4" r="2.5"/><circle cx="472.6" cy="196.7" r="2.5"/><circle cx="477.4" cy="198.4" r="2.5"/><circle cx="482.5" cy="198.4" r="2.5"/><circle cx="487.3" cy="196.0" r="2.5"/><circle cx="492.1" cy="193.3" r="2.5"/><circle cx="497.2" cy="189.3" r="2.5"/><circle cx="502.0" cy="187.3" r="2.5"/><circle cx="506.8" cy="182.1" r="2.5"/><circle cx="512.0" cy="181.3" r="2.5"/><circle cx="516.9" cy="175.3" r="2.5"/><circle cx="531.8" cy="166.4" r="2.5"/><circle cx="546.1" cy="163.3" r="2.5"/><circle cx="551.1" cy="160.9" r="2.5"/><circle cx="556.0" cy="161.1" r="2.5"/><circle cx="566.0" cy="159.9" r="2.5"/><circle cx="570.9" cy="164.8" r="2.5"/><circle cx="575.7" cy="174.8" r="2.5"/><circle cx="580.9" cy="182.1" r="2.5"/><circle cx="585.7" cy="186.1" r="2.5"/><circle cx="590.6" cy="185.2" r="2.5"/><circle cx="595.4" cy="192.9" r="2.5"/><circle cx="600.2" cy="191.7" r="2.5"/><circle cx="605.0" cy="204.4" r="2.5"/><circle cx="610.0" cy="205.4" r="2.5"/><circle cx="615.1" cy="210.2" r="2.5"/><circle cx="624.9" cy="211.6" r="2.5"/><circle cx="629.7" cy="215.0" r="2.5"/><circle cx="634.8" cy="216.9" r="2.5"/><circle cx="639.6" cy="222.9" r="2.5"/><circle cx="644.6" cy="224.8" r="2.5"/><circle cx="649.7" cy="228.9" r="2.5"/><circle cx="654.5" cy="231.3" r="2.5"/></g><path d="M411.5,259.0 C412.6,258.5 415.8,257.8 418.0,256.0 C420.2,254.2 422.7,251.0 425.0,248.0 C427.3,245.0 429.5,241.3 432.0,238.0 C434.5,234.7 437.3,231.7 440.0,228.0 C442.7,224.3 445.3,219.7 448.0,216.0 C450.7,212.3 453.3,208.8 456.0,206.0 C458.7,203.2 461.7,200.7 464.0,199.0 C466.3,197.3 468.0,196.3 470.0,196.0 C472.0,195.7 474.0,196.8 476.0,197.0 C478.0,197.2 479.7,197.5 482.0,197.0 C484.3,196.5 487.3,195.3 490.0,194.0 C492.7,192.7 495.3,190.8 498.0,189.0 C500.7,187.2 503.3,185.0 506.0,183.0 C508.7,181.0 511.3,178.8 514.0,177.0 C516.7,175.2 519.3,173.7 522.0,172.0 C524.7,170.3 527.0,168.3 530.0,167.0 C533.0,165.7 536.7,164.9 540.0,164.0 C543.3,163.1 547.0,162.1 550.0,161.5 C553.0,160.9 555.5,160.4 558.0,160.5 C560.5,160.6 562.7,160.8 565.0,162.0 C567.3,163.2 569.8,165.7 572.0,168.0 C574.2,170.3 575.7,173.3 578.0,176.0 C580.3,178.7 583.3,181.7 586.0,184.0 C588.7,186.3 591.3,187.8 594.0,190.0 C596.7,192.2 599.3,194.7 602.0,197.0 C604.7,199.3 607.3,202.0 610.0,204.0 C612.7,206.0 615.3,207.5 618.0,209.0 C620.7,210.5 623.3,211.7 626.0,213.0 C628.7,214.3 631.3,215.5 634.0,217.0 C636.7,218.5 639.3,220.2 642.0,222.0 C644.7,223.8 647.7,226.3 650.0,228.0 C652.3,229.7 655.0,231.3 656.0,232.0" fill="none" stroke="#4f3197" stroke-width="1.25" /><rect x="411.6" y="20.5" width="244.8" height="265.8" fill="none" stroke="#555" stroke-width="0.95"/><text x="529.6" y="317.6" text-anchor="middle" class="tl"><tspan font-style="italic">t</tspan> (min)</text><text x="396.6" y="8.4" class="pl">b</text>
<text x="52.2" y="37.4" style="font-family:'Liberation Serif',serif;font-style:italic;font-weight:bold;font-size:11.0px;fill:#222">w</text><text x="59.7" y="40.9" style="font-family:'Liberation Serif',serif;font-style:italic;font-weight:bold;font-size:7.5px;fill:#222">s</text><line x1="64.4" y1="35.0" x2="64.4" y2="39.9" stroke="#666" stroke-width="0.75"/><line x1="66.5" y1="35.0" x2="66.5" y2="39.9" stroke="#666" stroke-width="0.75"/>
<text x="428.4" y="37.3" style="font-family:'Liberation Serif',serif;font-style:italic;font-weight:bold;font-size:10.2px;fill:#222">w</text><text x="435.6" y="39.7" style="font-family:'Liberation Serif',serif;font-style:italic;font-weight:bold;font-size:6.9px;fill:#222">s</text><line x1="442.2" y1="36.2" x2="442.2" y2="40.9" stroke="#666" stroke-width="0.7"/><line x1="439.6" y1="40.5" x2="444.8" y2="40.5" stroke="#666" stroke-width="0.7"/>
<rect x="218.6" y="22.2" width="65.0" height="64.6" fill="#fff"/><path d="M218.7,80.0 C219.5,79.3 222.2,78.5 223.8,75.6 C225.4,72.7 226.7,66.8 228.1,62.6 C229.5,58.4 230.7,53.5 232.4,50.4 C234.1,47.3 236.3,45.9 238.2,43.9 C240.1,41.9 242.1,40.5 244.0,38.1 C245.9,35.7 248.0,30.9 249.7,29.4 C251.4,27.9 252.7,29.3 254.1,29.0 C255.5,28.7 257.0,27.6 258.4,27.7 C259.8,27.8 261.0,27.9 262.7,29.4 C264.4,30.9 266.8,33.0 268.5,36.6 C270.2,40.2 271.5,46.5 272.8,51.1 C274.1,55.7 275.4,61.2 276.4,64.1 C277.4,67.0 277.4,67.6 278.6,68.4 C279.8,69.2 282.9,68.7 283.7,68.7" fill="none" stroke="#4f3197" stroke-width="1.15" /><path d="M218.7,77.8 C219.5,76.6 222.1,72.4 223.8,70.6 C225.5,68.8 227.1,69.0 228.8,67.0 C230.5,65.0 232.0,61.3 233.9,58.3 C235.8,55.3 238.0,50.2 240.4,49.2 C242.8,48.2 245.8,51.2 248.3,52.5 C250.8,53.8 253.3,56.0 255.5,56.9 C257.7,57.8 259.6,57.1 261.3,57.6 C263.0,58.1 263.9,58.6 265.6,59.7 C267.3,60.8 269.5,62.6 271.4,64.1 C273.3,65.6 275.1,67.9 277.2,68.7 C279.2,69.5 282.6,69.0 283.7,69.1" fill="none" stroke="#3f89ce" stroke-width="1.15" /><path d="M218.7,85.0 C219.7,84.8 223.2,85.1 224.5,84.0 C225.8,82.9 225.6,81.8 226.6,78.5 C227.6,75.2 229.1,67.7 230.3,64.1 C231.5,60.5 232.8,58.6 233.9,56.9 C235.0,55.2 235.6,53.5 236.8,53.7 C238.0,53.9 239.4,55.8 241.1,58.3 C242.8,60.8 245.0,66.0 246.9,68.4 C248.8,70.8 250.9,72.0 252.6,72.7 C254.3,73.4 255.3,72.1 257.0,72.7 C258.7,73.3 260.8,75.7 262.7,76.3 C264.6,76.9 266.6,75.9 268.5,76.3 C270.4,76.7 272.4,77.7 274.3,78.5 C276.2,79.3 278.4,80.7 280.0,81.4 C281.6,82.1 283.1,82.6 283.7,82.8" fill="none" stroke="#16918f" stroke-width="1.15" /><path d="M218.7,86.0 C221.2,85.8 229.4,85.0 233.9,85.0 C238.4,85.0 241.6,85.8 245.4,85.7 C249.2,85.6 253.9,85.1 257.0,84.3 C260.1,83.5 261.6,81.5 264.2,80.7 C266.8,79.9 269.6,79.7 272.8,79.2 C276.1,78.8 281.9,78.2 283.7,78.0" fill="none" stroke="#21357f" stroke-width="1.15" /><path d="M218.7,85.0 C221.9,84.9 234.0,84.2 238.2,84.3 C242.4,84.4 240.6,85.8 244.0,85.7 C247.4,85.7 255.3,84.6 258.4,84.0 C261.5,83.4 261.0,82.4 262.7,82.1 C264.4,81.8 265.0,82.0 268.5,82.1 C272.0,82.2 281.2,82.7 283.7,82.8" fill="none" stroke="#ee3d27" stroke-width="1.15" /><rect x="218.6" y="22.2" width="65.0" height="64.6" fill="none" stroke="#444" stroke-width="1"/>
<rect x="588.4" y="24.4" width="65.0" height="63.9" fill="#fff"/><path d="M588.9,87.0 C589.8,85.7 592.9,81.2 594.5,79.2 C596.1,77.2 597.0,76.1 598.5,75.2 C600.0,74.3 601.8,74.1 603.4,73.6 C605.0,73.1 606.1,73.2 608.2,72.0 C610.3,70.8 613.3,67.6 616.2,66.4 C619.1,65.2 622.8,64.7 625.8,64.8 C628.8,64.9 630.9,66.4 633.9,67.2 C636.9,68.0 640.2,69.1 643.5,69.6 C646.8,70.1 651.8,70.3 653.5,70.4" fill="none" stroke="#4f3197" stroke-width="1.15" /><path d="M588.9,87.2 C589.8,86.1 592.9,82.2 594.5,80.5 C596.1,78.8 597.0,77.9 598.5,77.0 C600.0,76.1 601.8,75.6 603.4,75.0 C605.0,74.4 606.1,74.8 608.2,73.5 C610.3,72.2 613.3,68.3 616.2,67.2 C619.1,66.1 622.8,66.3 625.8,66.7 C628.8,67.1 630.9,68.8 633.9,69.6 C636.9,70.4 640.2,71.0 643.5,71.5 C646.8,72.0 651.8,72.6 653.5,72.8" fill="none" stroke="#3f89ce" stroke-width="1.15" /><path d="M588.9,87.3 C590.5,85.7 595.3,79.6 598.5,77.6 C601.7,75.6 605.2,75.9 608.2,75.2 C611.2,74.5 613.3,74.0 616.2,73.6 C619.1,73.2 622.6,72.7 625.8,72.8 C629.0,72.9 630.9,73.2 635.5,74.1 C640.1,75.0 650.5,77.7 653.5,78.4" fill="none" stroke="#16918f" stroke-width="1.15" /><path d="M588.9,87.6 C592.1,87.3 601.8,86.3 608.2,85.7 C614.6,85.1 619.9,84.4 627.4,83.7 C634.9,83.0 649.1,81.9 653.5,81.6" fill="none" stroke="#21357f" stroke-width="1.15" /><path d="M588.9,88.1 C595.3,87.7 616.6,86.5 627.4,85.7 C638.2,84.9 649.1,83.6 653.5,83.2" fill="none" stroke="#ee3d27" stroke-width="1.15" /><rect x="588.4" y="24.4" width="65.0" height="63.9" fill="none" stroke="#444" stroke-width="1"/>
<line x1="218.6" y1="86.0" x2="221.1" y2="86.0" stroke="#666" stroke-width="0.9"/><text x="213.7" y="90.6" text-anchor="middle" class="tki">0</text><line x1="218.6" y1="55.2" x2="221.1" y2="55.2" stroke="#666" stroke-width="0.9"/><text x="213.7" y="59.8" text-anchor="middle" class="tki">2</text><line x1="218.6" y1="24.3" x2="221.1" y2="24.3" stroke="#666" stroke-width="0.9"/><text x="213.7" y="28.9" text-anchor="middle" class="tki">4</text><line x1="231.4" y1="86.8" x2="231.4" y2="84.3" stroke="#666" stroke-width="0.9"/><line x1="244.4" y1="86.8" x2="244.4" y2="84.3" stroke="#666" stroke-width="0.9"/><line x1="257.4" y1="86.8" x2="257.4" y2="84.3" stroke="#666" stroke-width="0.9"/><line x1="270.4" y1="86.8" x2="270.4" y2="84.3" stroke="#666" stroke-width="0.9"/><text x="0" y="0" transform="translate(234.8,94.2) rotate(-45)" text-anchor="end" class="tki">50</text><text x="0" y="0" transform="translate(260.8,94.2) rotate(-45)" text-anchor="end" class="tki">150</text><text x="0" y="0" transform="translate(286.8,94.2) rotate(-45)" text-anchor="end" class="tki">250</text><text x="0" y="0" transform="translate(207.2,53.2) rotate(-90)" text-anchor="middle" class="sca"><tspan font-style="italic">S</tspan><tspan font-size="7" dy="2">C</tspan><tspan dy="-2"> (%)</tspan></text><path d="M283.4,65.1V72.1M281.2,65.1h4.4M281.2,72.1h4.4" stroke="#4f3197" stroke-width="1.1" fill="none"/><path d="M283.4,67.1V72.1M281.2,67.1h4.4M281.2,72.1h4.4" stroke="#3f89ce" stroke-width="1.1" fill="none"/><path d="M283.4,78.8V86.4M281.2,78.8h4.4M281.2,86.4h4.4" stroke="#16918f" stroke-width="1.1" fill="none"/><path d="M283.4,76.0V81.2M281.2,76.0h4.4M281.2,81.2h4.4" stroke="#21357f" stroke-width="1.1" fill="none"/><path d="M283.4,81.3V85.3M281.2,81.3h4.4M281.2,85.3h4.4" stroke="#ee3d27" stroke-width="1.1" fill="none"/>
<line x1="588.4" y1="87.6" x2="590.9" y2="87.6" stroke="#666" stroke-width="0.9"/><text x="583.1" y="92.2" text-anchor="middle" class="tki">0</text><line x1="588.4" y1="56.0" x2="590.9" y2="56.0" stroke="#666" stroke-width="0.9"/><text x="583.1" y="60.6" text-anchor="middle" class="tki">2</text><line x1="588.4" y1="24.4" x2="590.9" y2="24.4" stroke="#666" stroke-width="0.9"/><text x="583.1" y="29.0" text-anchor="middle" class="tki">4</text><line x1="601.3" y1="88.3" x2="601.3" y2="85.8" stroke="#666" stroke-width="0.9"/><line x1="614.3" y1="88.3" x2="614.3" y2="85.8" stroke="#666" stroke-width="0.9"/><line x1="627.4" y1="88.3" x2="627.4" y2="85.8" stroke="#666" stroke-width="0.9"/><line x1="640.4" y1="88.3" x2="640.4" y2="85.8" stroke="#666" stroke-width="0.9"/><text x="0" y="0" transform="translate(604.7,95.7) rotate(-45)" text-anchor="end" class="tki">50</text><text x="0" y="0" transform="translate(630.8,95.7) rotate(-45)" text-anchor="end" class="tki">150</text><text x="0" y="0" transform="translate(656.8,95.7) rotate(-45)" text-anchor="end" class="tki">250</text><text x="0" y="0" transform="translate(575.2,51.5) rotate(-90)" text-anchor="middle" class="sca"><tspan font-style="italic">S</tspan><tspan font-size="7" dy="2">C</tspan><tspan dy="-2"> (%)</tspan></text><path d="M653.2,67.8V73.0M651.0,67.8h4.4M651.0,73.0h4.4" stroke="#4f3197" stroke-width="1.1" fill="none"/><path d="M653.2,70.4V75.2M651.0,70.4h4.4M651.0,75.2h4.4" stroke="#3f89ce" stroke-width="1.1" fill="none"/><path d="M653.2,75.8V81.0M651.0,75.8h4.4M651.0,81.0h4.4" stroke="#16918f" stroke-width="1.1" fill="none"/><path d="M653.2,79.6V83.6M651.0,79.6h4.4M651.0,83.6h4.4" stroke="#21357f" stroke-width="1.1" fill="none"/><path d="M653.2,81.3V85.7M651.0,81.3h4.4M651.0,85.7h4.4" stroke="#ee3d27" stroke-width="1.1" fill="none"/>
<path d="M285.5,234.4V251.2M282.9,234.4h5.2M282.9,251.2h5.2" stroke="#4f3197" stroke-width="1.2" fill="none"/><path d="M285.5,237.3V246.5M282.9,237.3h5.2M282.9,246.5h5.2" stroke="#3f89ce" stroke-width="1.2" fill="none"/><path d="M285.5,264.4V282.9M282.9,264.4h5.2M282.9,282.9h5.2" stroke="#16918f" stroke-width="1.2" fill="none"/><path d="M285.5,266.2V279.4M282.9,266.2h5.2M282.9,279.4h5.2" stroke="#21357f" stroke-width="1.2" fill="none"/><path d="M285.5,280.0V286.3M282.9,280.0h5.2M282.9,286.3h5.2" stroke="#ee3d27" stroke-width="1.2" fill="none"/>
<circle cx="285.5" cy="242.5" r="2.4" fill="#4f3197"/><circle cx="285.5" cy="274" r="2.4" fill="#16918f"/>
<path d="M654.6,224.6V238.5M652.0,224.6h5.2M652.0,238.5h5.2" stroke="#4f3197" stroke-width="1.2" fill="none"/><path d="M654.6,236.0V247.0M652.0,236.0h5.2M652.0,247.0h5.2" stroke="#3f89ce" stroke-width="1.2" fill="none"/><path d="M654.6,269.0V281.8M652.0,269.0h5.2M652.0,281.8h5.2" stroke="#16918f" stroke-width="1.2" fill="none"/><path d="M654.6,272.0V281.0M652.0,272.0h5.2M652.0,281.0h5.2" stroke="#21357f" stroke-width="1.2" fill="none"/><path d="M654.6,277.0V283.5M652.0,277.0h5.2M652.0,283.5h5.2" stroke="#ee3d27" stroke-width="1.2" fill="none"/>
<line x1="319.1" y1="41.9" x2="346.8" y2="41.9" stroke="#4f3197" stroke-width="1.5"/><circle cx="332.7" cy="41.9" r="2.5" fill="#4f3197"/>
<text x="355.2" y="45.3" class="lg">0.4</text>
<line x1="319.1" y1="60.4" x2="346.8" y2="60.4" stroke="#3f89ce" stroke-width="1.5"/><circle cx="332.7" cy="60.4" r="2.5" fill="#3f89ce"/>
<text x="355.2" y="63.8" class="lg">4</text>
<line x1="319.1" y1="78.9" x2="346.8" y2="78.9" stroke="#16918f" stroke-width="1.5"/><circle cx="332.7" cy="78.9" r="2.5" fill="#16918f"/>
<text x="355.2" y="81.5" class="lg">20</text>
<line x1="319.1" y1="94.4" x2="346.8" y2="94.4" stroke="#21357f" stroke-width="1.5"/><circle cx="332.7" cy="94.4" r="2.5" fill="#21357f"/>
<text x="355.2" y="98.3" class="lg">80</text>
<line x1="319.1" y1="111.4" x2="346.8" y2="111.4" stroke="#ee3d27" stroke-width="1.5"/><circle cx="332.7" cy="111.4" r="2.5" fill="#ee3d27"/>
<text x="355.2" y="115.0" class="lg">200</text>
<text x="321.0" y="31.4" class="lg2">γ</text><text x="322.4" y="25.5" class="lg2" style="font-size:8px">·</text><text x="325.8" y="34.0" class="lg2" style="font-size:6.5px">F</text><text x="332.3" y="31.7" class="lg2">(s</text><text x="341.3" y="28.4" class="lg2" style="font-size:6.5px">-1</text><text x="346.9" y="31.7" class="lg2">)</text>
<line x1="39.6" y1="573.90" x2="42.8" y2="573.90" stroke="#666" stroke-width="0.9"/><text x="32.6" y="579.5" text-anchor="end" class="tk">0.0</text><line x1="39.6" y1="521.30" x2="42.8" y2="521.30" stroke="#666" stroke-width="0.9"/><text x="32.6" y="526.9" text-anchor="end" class="tk">0.5</text><line x1="39.6" y1="468.70" x2="42.8" y2="468.70" stroke="#666" stroke-width="0.9"/><text x="32.6" y="474.3" text-anchor="end" class="tk">1.0</text><line x1="39.6" y1="416.10" x2="42.8" y2="416.10" stroke="#666" stroke-width="0.9"/><text x="32.6" y="421.7" text-anchor="end" class="tk">1.5</text><line x1="39.6" y1="363.50" x2="42.8" y2="363.50" stroke="#666" stroke-width="0.9"/><text x="32.6" y="369.1" text-anchor="end" class="tk">2.0</text><text x="37.9" y="608.8" text-anchor="middle" class="tk">0.1</text><line x1="97.6" y1="595.2" x2="97.6" y2="592.0" stroke="#666" stroke-width="0.9"/><text x="96.5" y="608.8" text-anchor="middle" class="tk">1</text><line x1="155.4" y1="595.2" x2="155.4" y2="592.0" stroke="#666" stroke-width="0.9"/><text x="154.5" y="608.8" text-anchor="middle" class="tk">10</text><line x1="213.2" y1="595.2" x2="213.2" y2="592.0" stroke="#666" stroke-width="0.9"/><text x="213.2" y="608.8" text-anchor="middle" class="tk">100</text><line x1="271.0" y1="595.2" x2="271.0" y2="592.0" stroke="#666" stroke-width="0.9"/><text x="269.2" y="608.8" text-anchor="middle" class="tk">1000</text><defs><clipPath id="cc"><rect x="39.6" y="332.6" width="245.8" height="262.6"/></clipPath></defs><g clip-path="url(#cc)"><path d="M39.8,482.6 C45.6,482.6 64.5,482.5 74.5,482.6 C84.5,482.8 92.4,483.1 100.0,483.5 C107.6,483.9 114.6,484.3 120.0,485.0 C125.4,485.7 129.5,485.9 132.4,487.6 C135.3,489.3 135.4,490.7 137.6,495.2 C139.8,499.7 143.4,508.7 145.8,514.8 C148.2,520.9 149.9,527.0 152.3,532.0 C154.7,537.0 157.7,541.4 160.0,545.0 C162.3,548.6 163.8,551.0 166.0,553.5 C168.2,556.0 169.2,558.4 173.3,560.3 C177.4,562.1 185.0,563.7 190.8,564.6 C196.6,565.5 201.2,565.2 208.0,565.9 C214.8,566.5 218.4,567.7 231.3,568.5 C244.2,569.3 276.4,570.2 285.4,570.5" fill="none" stroke="#9674bb" stroke-width="1.30" /><path d="M39.8,418.2 C45.6,419.8 64.1,424.8 74.5,428.0 C84.9,431.2 94.4,434.3 102.0,437.3 C109.6,440.3 114.9,442.5 120.0,446.0 C125.1,449.5 128.8,453.7 132.5,458.1 C136.2,462.5 139.8,467.2 142.5,472.3 C145.2,477.4 146.9,483.1 149.0,489.0 C151.1,494.9 153.2,503.0 155.0,508.0 C156.8,513.0 158.2,515.3 160.0,519.0 C161.8,522.7 163.8,526.4 166.0,530.0 C168.2,533.6 170.0,536.5 173.3,540.8 C176.6,545.1 179.8,551.8 185.6,555.6 C191.4,559.4 202.4,561.9 208.0,563.8 C213.6,565.7 215.1,566.2 219.0,567.2 C222.9,568.2 220.2,568.6 231.3,569.7 C242.4,570.8 276.4,573.0 285.4,573.6" fill="none" stroke="#9674bb" stroke-width="1.30" /><path d="M39.8,345.6 C45.6,351.9 63.9,371.6 74.5,383.6 C85.1,395.6 93.8,406.2 103.5,417.6 C113.2,429.0 125.2,443.1 132.5,451.7 C139.8,460.3 142.4,464.1 147.0,469.5 C151.6,474.9 155.6,479.2 160.0,483.8 C164.4,488.4 168.2,492.9 173.3,497.4 C178.4,501.9 185.0,506.9 190.8,510.8 C196.6,514.6 203.3,517.7 208.0,520.5 C212.7,523.3 215.1,524.9 219.0,527.4 C222.9,529.9 226.2,532.6 231.3,535.6 C236.4,538.6 243.6,542.3 249.7,545.4 C255.8,548.5 261.8,551.5 267.7,554.4 C273.6,557.3 282.4,561.4 285.4,562.8" fill="none" stroke="#d99f50" stroke-width="1.30" /><path d="M39.8,351.9 C45.6,355.9 63.9,368.4 74.5,376.1 C85.1,383.8 93.8,390.9 103.5,398.3 C113.2,405.7 124.2,414.7 132.5,420.5 C140.8,426.3 146.2,428.6 153.0,433.0 C159.8,437.4 168.6,442.8 173.3,447.2 C178.0,451.6 178.5,455.1 181.0,459.5 C183.5,463.9 185.7,469.1 188.2,473.6 C190.7,478.1 192.7,482.3 196.0,486.5 C199.3,490.7 204.2,495.0 208.0,498.7 C211.8,502.4 215.1,505.9 219.0,508.5 C222.9,511.1 226.2,511.9 231.3,514.6 C236.4,517.3 243.6,521.7 249.7,524.9 C255.8,528.1 261.8,531.0 267.7,533.8 C273.6,536.6 282.4,540.3 285.4,541.6" fill="none" stroke="#d99f50" stroke-width="1.30" /></g><g stroke="#d99f50" stroke-width="1.2" fill="#d99f50"><path d="M74.6,362.8V389.4M71.3,362.8h6.6M71.3,389.4h6.6" fill="none"/><circle cx="74.6" cy="376.1" r="2.9" stroke="none"/><path d="M132.4,410.6V430.4M129.1,410.6h6.6M129.1,430.4h6.6" fill="none"/><circle cx="132.4" cy="420.5" r="2.9" stroke="none"/><path d="M172.8,438.7V455.7M169.5,438.7h6.6M169.5,455.7h6.6" fill="none"/><circle cx="172.8" cy="447.2" r="2.9" stroke="none"/><path d="M207.6,489.1V508.3M204.3,489.1h6.6M204.3,508.3h6.6" fill="none"/><circle cx="207.6" cy="498.7" r="2.9" stroke="none"/><path d="M230.6,506.6V522.6M227.3,506.6h6.6M227.3,522.6h6.6" fill="none"/><circle cx="230.6" cy="514.6" r="2.9" stroke="none"/></g><g stroke="#d99f50" stroke-width="1.2" fill="#d99f50"><path d="M74.6,370.2V397.0M71.3,370.2h6.6M71.3,397.0h6.6" fill="none"/><rect x="71.8" y="380.8" width="5.6" height="5.6" stroke="none"/><path d="M132.4,439.3V464.1M129.1,439.3h6.6M129.1,464.1h6.6" fill="none"/><rect x="129.6" y="448.9" width="5.6" height="5.6" stroke="none"/><path d="M172.8,487.2V507.6M169.5,487.2h6.6M169.5,507.6h6.6" fill="none"/><rect x="170.0" y="494.6" width="5.6" height="5.6" stroke="none"/><path d="M207.6,511.7V529.3M204.3,511.7h6.6M204.3,529.3h6.6" fill="none"/><rect x="204.8" y="517.7" width="5.6" height="5.6" stroke="none"/><path d="M230.6,527.2V544.0M227.3,527.2h6.6M227.3,544.0h6.6" fill="none"/><rect x="227.8" y="532.8" width="5.6" height="5.6" stroke="none"/></g><g stroke="#9674bb" stroke-width="1.2" fill="#9674bb"><path d="M74.6,413.3V442.7M71.3,413.3h6.6M71.3,442.7h6.6" fill="none"/><circle cx="74.6" cy="428.0" r="2.9" stroke="none"/><path d="M132.4,447.7V468.5M129.1,447.7h6.6M129.1,468.5h6.6" fill="none"/><circle cx="132.4" cy="458.1" r="2.9" stroke="none"/><path d="M172.8,531.8V549.8M169.5,531.8h6.6M169.5,549.8h6.6" fill="none"/><circle cx="172.8" cy="540.8" r="2.9" stroke="none"/><path d="M207.6,554.0V573.6M204.3,554.0h6.6M204.3,573.6h6.6" fill="none"/><circle cx="207.6" cy="563.8" r="2.9" stroke="none"/><path d="M230.6,560.1V579.3M227.3,560.1h6.6M227.3,579.3h6.6" fill="none"/><circle cx="230.6" cy="569.7" r="2.9" stroke="none"/></g><g stroke="#9674bb" stroke-width="1.2" fill="#9674bb"><path d="M74.6,468.6V496.6M71.3,468.6h6.6M71.3,496.6h6.6" fill="none"/><rect x="71.8" y="479.8" width="5.6" height="5.6" stroke="none"/><path d="M132.4,474.2V501.0M129.1,474.2h6.6M129.1,501.0h6.6" fill="none"/><rect x="129.6" y="484.8" width="5.6" height="5.6" stroke="none"/><path d="M172.8,547.3V573.3M169.5,547.3h6.6M169.5,573.3h6.6" fill="none"/><rect x="170.0" y="557.5" width="5.6" height="5.6" stroke="none"/><path d="M207.6,555.4V576.4M204.3,555.4h6.6M204.3,576.4h6.6" fill="none"/><rect x="204.8" y="563.1" width="5.6" height="5.6" stroke="none"/><path d="M230.6,557.5V579.5M227.3,557.5h6.6M227.3,579.5h6.6" fill="none"/><rect x="227.8" y="565.7" width="5.6" height="5.6" stroke="none"/></g><rect x="39.6" y="332.6" width="245.8" height="262.6" fill="none" stroke="#555" stroke-width="1.1"/><text x="0" y="0" transform="translate(9.6,459) rotate(-90)" text-anchor="middle" class="yl">S<tspan dy="2.5" font-size="7">c</tspan><tspan dy="-2.5"> / S</tspan><tspan dy="2.5" font-size="7" font-style="italic">F</tspan></text><text x="153.6" y="618.6" class="tl">γ</text><text x="155.0" y="615.9" class="tl" style="font-size:8px">·</text><text x="158.2" y="623.6" class="tl" style="font-size:6.6px">F</text><text x="165.4" y="619.6" class="tl">(s</text><text x="173.9" y="615.6" class="tl" style="font-size:6.6px">-1</text><text x="179.9" y="619.6" class="tl">)</text><circle cx="55.8" cy="532.8" r="4" fill="#111"/><rect x="51.8" y="546.7" width="8" height="8" fill="#111"/><text x="69.3" y="536.0" style="font-family:'Liberation Serif',serif;font-style:italic;font-weight:bold;font-size:11.0px;fill:#222">w</text><text x="76.2" y="538.8" style="font-family:'Liberation Serif',serif;font-style:italic;font-weight:bold;font-size:7.5px;fill:#222">s</text><line x1="81.1" y1="533.4" x2="81.1" y2="538.5" stroke="#666" stroke-width="0.75"/><line x1="83.2" y1="533.4" x2="83.2" y2="538.5" stroke="#666" stroke-width="0.75"/><text x="69.5" y="552.0" style="font-family:'Liberation Serif',serif;font-style:italic;font-weight:bold;font-size:11.0px;fill:#222">w</text><text x="76.9" y="554.8" style="font-family:'Liberation Serif',serif;font-style:italic;font-weight:bold;font-size:7.5px;fill:#222">s</text><line x1="82.8" y1="552.4" x2="82.8" y2="556.0" stroke="#666" stroke-width="0.7"/><line x1="80.8" y1="555.6" x2="84.8" y2="555.6" stroke="#666" stroke-width="0.7"/><line x1="51.8" y1="566.3" x2="68.9" y2="566.3" stroke="#9674bb" stroke-width="1.3"/><line x1="51.8" y1="580.3" x2="68.9" y2="580.3" stroke="#f4a06a" stroke-width="1.3"/><text x="69.7" y="570" class="lgc">Δ<tspan font-style="italic">mot</tspan>ABCD</text><text x="71.0" y="584" class="lgc">WT</text><text x="30.5" y="324.4" class="pl">c</text><rect x="195.3" y="336.4" width="82.9" height="88.9" fill="#fff"/><path d="M195.3,372.8 C197.5,371.7 204.2,369.1 208.2,366.0 C212.2,362.9 215.4,357.2 219.2,354.0 C223.0,350.8 226.6,348.8 231.2,347.0 C235.8,345.2 242.1,344.2 246.9,343.3 C251.7,342.4 254.6,341.9 259.8,341.4 C265.0,340.9 275.1,340.3 278.2,340.1" fill="none" stroke="#8a8a8a" stroke-width="1.00" /><path d="M195.3,348.4 C196.5,350.5 200.4,357.9 202.6,361.3 C204.8,364.7 205.4,365.0 208.2,368.7 C211.0,372.4 215.5,378.9 219.2,383.4 C222.9,387.8 226.9,391.7 230.3,395.4 C233.7,399.1 236.7,402.7 239.5,405.6 C242.3,408.5 245.1,410.8 246.9,412.9 C248.8,415.0 248.4,417.1 250.6,418.5 C252.8,419.9 255.2,420.4 259.8,421.2 C264.4,422.0 275.1,422.8 278.2,423.1" fill="none" stroke="#8a8a8a" stroke-width="1.00" /><path d="M195.3,403.7 C199.3,403.7 213.4,403.5 219.2,403.7 C225.0,403.9 226.9,404.1 230.3,404.6 C233.7,405.1 236.7,405.4 239.5,406.5 C242.3,407.6 244.8,409.3 246.9,411.1 C249.1,412.9 250.2,416.1 252.4,417.5 C254.6,418.9 255.5,418.9 259.8,419.4 C264.1,419.9 275.1,420.1 278.2,420.3" fill="none" stroke="#8a8a8a" stroke-width="1.00" /><path d="M208.4,361.5V366.9M205.9,361.5h5M205.9,366.9h5" stroke="#4f3197" stroke-width="1.1" fill="none"/><circle cx="208.4" cy="364.2" r="1.3" fill="#4f3197"/><path d="M208.4,365.5V370.9M205.9,365.5h5M205.9,370.9h5" stroke="#4f3197" stroke-width="1.1" fill="none"/><circle cx="208.4" cy="368.2" r="1.3" fill="#4f3197"/><path d="M208.4,402.6V408.0M205.9,402.6h5M205.9,408.0h5" stroke="#4f3197" stroke-width="1.1" fill="none"/><circle cx="208.4" cy="405.3" r="1.3" fill="#4f3197"/><path d="M231.0,344.7V350.1M228.5,344.7h5M228.5,350.1h5" stroke="#3f89ce" stroke-width="1.1" fill="none"/><circle cx="231.0" cy="347.4" r="1.3" fill="#3f89ce"/><path d="M231.0,394.9V400.3M228.5,394.9h5M228.5,400.3h5" stroke="#3f89ce" stroke-width="1.1" fill="none"/><circle cx="231.0" cy="397.6" r="1.3" fill="#3f89ce"/><path d="M231.0,402.1V407.5M228.5,402.1h5M228.5,407.5h5" stroke="#3f89ce" stroke-width="1.1" fill="none"/><circle cx="231.0" cy="404.8" r="1.3" fill="#3f89ce"/><path d="M246.6,340.7V346.1M244.1,340.7h5M244.1,346.1h5" stroke="#16918f" stroke-width="1.1" fill="none"/><circle cx="246.6" cy="343.4" r="1.3" fill="#16918f"/><path d="M246.6,408.1V413.5M244.1,408.1h5M244.1,413.5h5" stroke="#16918f" stroke-width="1.1" fill="none"/><circle cx="246.6" cy="410.8" r="1.3" fill="#16918f"/><path d="M246.6,409.9V415.3M244.1,409.9h5M244.1,415.3h5" stroke="#16918f" stroke-width="1.1" fill="none"/><circle cx="246.6" cy="412.6" r="1.3" fill="#16918f"/><path d="M260.1,339.9V345.3M257.6,339.9h5M257.6,345.3h5" stroke="#21357f" stroke-width="1.1" fill="none"/><circle cx="260.1" cy="342.6" r="1.3" fill="#21357f"/><path d="M260.1,416.8V422.2M257.6,416.8h5M257.6,422.2h5" stroke="#21357f" stroke-width="1.1" fill="none"/><circle cx="260.1" cy="419.5" r="1.3" fill="#21357f"/><path d="M269.2,337.3V342.7M266.7,337.3h5M266.7,342.7h5" stroke="#ee3d27" stroke-width="1.1" fill="none"/><circle cx="269.2" cy="340.0" r="1.3" fill="#ee3d27"/><path d="M269.2,417.6V423.0M266.7,417.6h5M266.7,423.0h5" stroke="#ee3d27" stroke-width="1.1" fill="none"/><circle cx="269.2" cy="420.3" r="1.3" fill="#ee3d27"/><rect x="195.3" y="336.4" width="82.9" height="88.9" fill="none" stroke="#444" stroke-width="1"/><line x1="195.3" y1="424.0" x2="197.8" y2="424.0" stroke="#666" stroke-width="0.9"/><text x="189.7" y="427.9" text-anchor="middle" class="tki">0</text><line x1="195.3" y1="381.1" x2="197.8" y2="381.1" stroke="#666" stroke-width="0.9"/><text x="189.7" y="385.0" text-anchor="middle" class="tki">2</text><line x1="195.3" y1="338.2" x2="197.8" y2="338.2" stroke="#666" stroke-width="0.9"/><text x="189.7" y="342.1" text-anchor="middle" class="tki">4</text><text x="198.0" y="436.2" text-anchor="middle" class="tki">0.1</text><text x="219.2" y="436.2" text-anchor="middle" class="tki">10</text><text x="243.2" y="436.2" text-anchor="middle" class="tki">10<tspan font-size="6.5" dy="-4">2</tspan></text><text x="265.3" y="436.2" text-anchor="middle" class="tki">10<tspan font-size="6.5" dy="-4">3</tspan></text><line x1="217.4" y1="425.3" x2="217.4" y2="422.8" stroke="#666" stroke-width="0.9"/><line x1="240.4" y1="425.3" x2="240.4" y2="422.8" stroke="#666" stroke-width="0.9"/><line x1="263.1" y1="425.3" x2="263.1" y2="422.8" stroke="#666" stroke-width="0.9"/><text x="0" y="0" transform="translate(184.4,380) rotate(-90)" text-anchor="middle" class="sci"><tspan font-style="italic">S</tspan><tspan font-size="8" dy="2">C</tspan><tspan dy="-2"> (%)</tspan></text><text x="223.8" y="383.2" style="font-family:'Liberation Serif',serif;font-style:italic;font-weight:bold;font-size:10.5px;fill:#222">w</text><text x="231.0" y="385.9" style="font-family:'Liberation Serif',serif;font-style:italic;font-weight:bold;font-size:7.1px;fill:#222">s</text><line x1="236.1" y1="381.2" x2="236.1" y2="385.6" stroke="#666" stroke-width="0.75"/><line x1="238.2" y1="381.2" x2="238.2" y2="385.6" stroke="#666" stroke-width="0.75"/><text x="214.2" y="413.3" style="font-family:'Liberation Serif',serif;font-style:italic;font-weight:bold;font-size:10.5px;fill:#222">w</text><text x="221.4" y="416.4" style="font-family:'Liberation Serif',serif;font-style:italic;font-weight:bold;font-size:7.1px;fill:#222">s</text><line x1="227.8" y1="413.7" x2="227.8" y2="416.9" stroke="#666" stroke-width="0.7"/><line x1="226.0" y1="416.5" x2="229.5" y2="416.5" stroke="#666" stroke-width="0.7"/><text x="269" y="355.5" class="tki" style="font-size:11px">F</text>
<defs><linearGradient id="sg" x1="0" y1="0" x2="0" y2="1"><stop offset="0.0000" stop-color="#858080"/><stop offset="0.0323" stop-color="#625b5b"/><stop offset="0.1141" stop-color="#615a5a"/><stop offset="0.1356" stop-color="#76706f"/><stop offset="0.1561" stop-color="#a9a5a4"/><stop offset="0.1701" stop-color="#aeaaa9"/><stop offset="0.1808" stop-color="#a9a5a4"/><stop offset="0.2078" stop-color="#9a9695"/><stop offset="0.2400" stop-color="#7d7776"/><stop offset="0.2670" stop-color="#615a5a"/><stop offset="0.3434" stop-color="#615a5a"/><stop offset="0.3649" stop-color="#76706f"/><stop offset="0.3854" stop-color="#a9a5a4"/><stop offset="0.3994" stop-color="#aeaaa9"/><stop offset="0.4101" stop-color="#a9a5a4"/><stop offset="0.4370" stop-color="#9a9695"/><stop offset="0.4693" stop-color="#7d7776"/><stop offset="0.4962" stop-color="#615a5a"/><stop offset="0.6093" stop-color="#615a5a"/><stop offset="0.6308" stop-color="#76706f"/><stop offset="0.6512" stop-color="#a9a5a4"/><stop offset="0.6652" stop-color="#aeaaa9"/><stop offset="0.6760" stop-color="#a9a5a4"/><stop offset="0.7029" stop-color="#9a9695"/><stop offset="0.7352" stop-color="#7d7776"/><stop offset="0.7621" stop-color="#615a5a"/><stop offset="0.8654" stop-color="#615a5a"/><stop offset="0.8870" stop-color="#76706f"/><stop offset="0.9074" stop-color="#a9a5a4"/><stop offset="0.9214" stop-color="#aeaaa9"/><stop offset="0.9322" stop-color="#a9a5a4"/><stop offset="0.9591" stop-color="#9a9695"/><stop offset="0.9914" stop-color="#7d7776"/><stop offset="1.0000" stop-color="#6a6463"/></linearGradient><linearGradient id="fa" x1="0" y1="0" x2="0" y2="1"><stop offset="0" stop-color="#2d4c80"/><stop offset="0.75" stop-color="#2d4c80"/><stop offset="1" stop-color="#2d4c80" stop-opacity="0.35"/></linearGradient></defs><polygon points="341.6,356.7 341.3,366.0 341.0,372.6 339.6,375.0 338.9,377.6 338.1,383.0 337.5,386.5 335.5,389.7 334.5,397.0 333.5,404.9 331.5,408.1 330.2,415.0 329.0,422.5 327.0,425.7 325.5,437.0 323.8,449.6 467.6,449.6 466.8,435.4 466.0,422.5 465.2,416.1 463.6,409.7 462.5,400.0 461.5,393.7 460.9,386.5 460.0,384.0 458.8,377.6 458.0,372.8 457.2,368.0 456.7,356.7" fill="url(#sg)"/><polyline points="342.0,357.0 326.0,357.1 325.0,372.0 323.2,387.0 320.0,400.0 316.0,412.0 315.1,418.6 312.0,430.0 310.0,440.0 308.4,449.2 324.4,449.3" stroke="#6b6b6b" stroke-width="0.7" stroke-dasharray="1.8,1.3" fill="none"/><polyline points="456.6,356.7 471.0,356.5 474.0,375.0 476.0,386.2 478.0,400.0 479.3,417.6 481.0,430.0 483.8,449.1 468.4,449.3" stroke="#6b6b6b" stroke-width="0.7" stroke-dasharray="1.8,1.3" fill="none"/><line x1="342.0" y1="357.0" x2="456.6" y2="357.0" stroke="#6b6b6b" stroke-width="0.7" stroke-dasharray="1.8,1.3" fill="none"/><line x1="324.4" y1="449.3" x2="468.4" y2="449.3" stroke="#6b6b6b" stroke-width="0.7" stroke-dasharray="1.8,1.3" fill="none"/><line x1="322.7" y1="387.0" x2="336.1" y2="387.0" stroke="#6b6b6b" stroke-width="0.7" stroke-dasharray="1.8,1.3" fill="none"/><line x1="315.1" y1="418.6" x2="330.3" y2="418.6" stroke="#6b6b6b" stroke-width="0.7" stroke-dasharray="1.8,1.3" fill="none"/><line x1="461.3" y1="386.2" x2="476.0" y2="386.2" stroke="#6b6b6b" stroke-width="0.7" stroke-dasharray="1.8,1.3" fill="none"/><line x1="465.8" y1="417.6" x2="479.3" y2="417.6" stroke="#6b6b6b" stroke-width="0.7" stroke-dasharray="1.8,1.3" fill="none"/><polygon points="542.6,356.7 542.3,366.0 542.0,372.6 540.6,375.0 539.9,377.6 539.1,383.0 538.5,386.5 536.5,389.7 535.5,397.0 534.5,404.9 532.5,408.1 531.2,415.0 530.0,422.5 528.0,425.7 526.5,437.0 524.8,449.6 668.6,449.6 667.8,435.4 667.0,422.5 666.2,416.1 664.6,409.7 663.5,400.0 662.5,393.7 661.9,386.5 661.0,384.0 659.8,377.6 659.0,372.8 658.2,368.0 657.7,356.7" fill="url(#sg)"/><polyline points="543.0,357.0 527.0,357.1 526.0,372.0 524.2,387.0 521.0,400.0 517.0,412.0 516.1,418.6 513.0,430.0 511.0,440.0 509.4,449.2 525.4,449.3" stroke="#6b6b6b" stroke-width="0.7" stroke-dasharray="1.8,1.3" fill="none"/><polyline points="657.6,356.7 672.0,356.5 675.0,375.0 677.0,386.2 679.0,400.0 680.3,417.6 682.0,430.0 684.8,449.1 669.4,449.3" stroke="#6b6b6b" stroke-width="0.7" stroke-dasharray="1.8,1.3" fill="none"/><line x1="543.0" y1="357.0" x2="657.6" y2="357.0" stroke="#6b6b6b" stroke-width="0.7" stroke-dasharray="1.8,1.3" fill="none"/><line x1="525.4" y1="449.3" x2="669.4" y2="449.3" stroke="#6b6b6b" stroke-width="0.7" stroke-dasharray="1.8,1.3" fill="none"/><line x1="523.7" y1="387.0" x2="537.1" y2="387.0" stroke="#6b6b6b" stroke-width="0.7" stroke-dasharray="1.8,1.3" fill="none"/><line x1="516.1" y1="418.6" x2="531.3" y2="418.6" stroke="#6b6b6b" stroke-width="0.7" stroke-dasharray="1.8,1.3" fill="none"/><line x1="662.3" y1="386.2" x2="677.0" y2="386.2" stroke="#6b6b6b" stroke-width="0.7" stroke-dasharray="1.8,1.3" fill="none"/><line x1="666.8" y1="417.6" x2="680.3" y2="417.6" stroke="#6b6b6b" stroke-width="0.7" stroke-dasharray="1.8,1.3" fill="none"/><polygon points="339.8,501.5 339.5,510.8 339.2,517.4 337.8,519.8 337.1,522.4 336.3,527.8 335.7,531.3 333.7,534.5 332.7,541.8 331.7,549.7 329.7,552.9 328.4,559.8 327.2,567.3 325.2,570.5 323.7,581.8 322.0,594.4 465.8,594.4 465.0,580.2 464.2,567.3 463.4,560.9 461.8,554.5 460.7,544.8 459.7,538.5 459.1,531.3 458.2,528.8 457.0,522.4 456.2,517.6 455.4,512.8 454.9,501.5" fill="url(#sg)"/><polyline points="340.2,501.8 324.2,501.9 323.2,516.8 321.4,531.8 318.2,544.8 314.2,556.8 313.3,563.4 310.2,574.8 308.2,584.8 306.6,594.0 322.6,594.1" stroke="#6b6b6b" stroke-width="0.7" stroke-dasharray="1.8,1.3" fill="none"/><polyline points="454.8,501.5 469.2,501.3 472.2,519.8 474.2,531.0 476.2,544.8 477.5,562.4 479.2,574.8 482.0,593.9 466.6,594.1" stroke="#6b6b6b" stroke-width="0.7" stroke-dasharray="1.8,1.3" fill="none"/><line x1="340.2" y1="501.8" x2="454.8" y2="501.8" stroke="#6b6b6b" stroke-width="0.7" stroke-dasharray="1.8,1.3" fill="none"/><line x1="322.6" y1="594.1" x2="466.6" y2="594.1" stroke="#6b6b6b" stroke-width="0.7" stroke-dasharray="1.8,1.3" fill="none"/><line x1="320.9" y1="531.8" x2="334.3" y2="531.8" stroke="#6b6b6b" stroke-width="0.7" stroke-dasharray="1.8,1.3" fill="none"/><line x1="313.3" y1="563.4" x2="328.5" y2="563.4" stroke="#6b6b6b" stroke-width="0.7" stroke-dasharray="1.8,1.3" fill="none"/><line x1="459.5" y1="531.0" x2="474.2" y2="531.0" stroke="#6b6b6b" stroke-width="0.7" stroke-dasharray="1.8,1.3" fill="none"/><line x1="464.0" y1="562.4" x2="477.5" y2="562.4" stroke="#6b6b6b" stroke-width="0.7" stroke-dasharray="1.8,1.3" fill="none"/><polygon points="541.6,501.5 541.3,510.8 541.0,517.4 539.6,519.8 538.9,522.4 538.1,527.8 537.5,531.3 535.5,534.5 534.5,541.8 533.5,549.7 531.5,552.9 530.2,559.8 529.0,567.3 527.0,570.5 525.5,581.8 523.8,594.4 667.6,594.4 666.8,580.2 666.0,567.3 665.2,560.9 663.6,554.5 662.5,544.8 661.5,538.5 660.9,531.3 660.0,528.8 658.8,522.4 658.0,517.6 657.2,512.8 656.7,501.5" fill="url(#sg)"/><polyline points="542.0,501.8 526.0,501.9 525.0,516.8 523.2,531.8 520.0,544.8 516.0,556.8 515.1,563.4 512.0,574.8 510.0,584.8 508.4,594.0 524.4,594.1" stroke="#6b6b6b" stroke-width="0.7" stroke-dasharray="1.8,1.3" fill="none"/><polyline points="656.6,501.5 671.0,501.3 674.0,519.8 676.0,531.0 678.0,544.8 679.3,562.4 681.0,574.8 683.8,593.9 668.4,594.1" stroke="#6b6b6b" stroke-width="0.7" stroke-dasharray="1.8,1.3" fill="none"/><line x1="542.0" y1="501.8" x2="656.6" y2="501.8" stroke="#6b6b6b" stroke-width="0.7" stroke-dasharray="1.8,1.3" fill="none"/><line x1="524.4" y1="594.1" x2="668.4" y2="594.1" stroke="#6b6b6b" stroke-width="0.7" stroke-dasharray="1.8,1.3" fill="none"/><line x1="522.7" y1="531.8" x2="536.1" y2="531.8" stroke="#6b6b6b" stroke-width="0.7" stroke-dasharray="1.8,1.3" fill="none"/><line x1="515.1" y1="563.4" x2="530.3" y2="563.4" stroke="#6b6b6b" stroke-width="0.7" stroke-dasharray="1.8,1.3" fill="none"/><line x1="661.3" y1="531.0" x2="676.0" y2="531.0" stroke="#6b6b6b" stroke-width="0.7" stroke-dasharray="1.8,1.3" fill="none"/><line x1="665.8" y1="562.4" x2="679.3" y2="562.4" stroke="#6b6b6b" stroke-width="0.7" stroke-dasharray="1.8,1.3" fill="none"/><polygon points="303.5,440.1 320.4,365.5 322.6,366.0 320.6,357.0 315.1,364.4 317.3,364.9 302.5,439.9" fill="url(#fa)"/><polygon points="503.5,444.4 519.2,369.2 521.3,369.6 519.2,360.6 513.9,368.1 516.0,368.5 502.5,444.2" fill="url(#fa)"/><polygon points="301.4,592.7 316.1,517.1 318.3,517.4 316.0,508.5 310.8,516.1 312.9,516.5 300.4,592.5" fill="url(#fa)"/><polygon points="504.5,591.1 520.0,516.4 522.1,516.8 520.0,507.8 514.7,515.3 516.8,515.7 503.5,590.9" fill="url(#fa)"/><text x="0" y="0" transform="translate(307.6,403.5) rotate(-77.8)" text-anchor="middle" class="flow">Flow</text><text x="0" y="0" transform="translate(306.6,543.3) rotate(-79.8)" text-anchor="middle" class="flow">Flow</text><line x1="323.2" y1="417.2" x2="326.0" y2="401.1" stroke="#3c5c98" stroke-width="0.8"/><polygon points="326.6,397.9 327.3,401.3 324.8,400.8" fill="#3c5c98"/><line x1="357.1" y1="400.5" x2="359.5" y2="381.8" stroke="#3c5c98" stroke-width="0.8"/><polygon points="359.9,378.6 360.8,381.9 358.2,381.6" fill="#3c5c98"/><line x1="469.2" y1="417.6" x2="468.2" y2="391.6" stroke="#3c5c98" stroke-width="0.8"/><polygon points="468.1,388.4 469.5,391.5 466.9,391.6" fill="#3c5c98"/><rect x="311.1" y="427.9" width="20.6" height="7.3" rx="3.6" fill="#e0702a" opacity="1.00" transform="rotate(101.7 321.4 431.5)"/><rect x="346.2" y="408.9" width="20.1" height="7.6" rx="3.8" fill="#e0702a" opacity="1.00" transform="rotate(99.7 356.2 412.7)"/><rect x="462.7" y="428.2" width="19.6" height="6.8" rx="3.4" fill="#e0702a" opacity="1.00" transform="rotate(85.0 472.5 431.6)"/><rect x="393.5" y="371.3" width="17.9" height="7.3" rx="3.6" fill="#d88a4a" opacity="0.65" transform="rotate(56.4 402.4 374.9)"/><rect x="404.4" y="369.4" width="17.7" height="7.0" rx="3.5" fill="#d88a4a" opacity="0.65" transform="rotate(74.6 413.2 372.9)"/><rect x="384.1" y="388.9" width="15.3" height="7.2" rx="3.6" fill="#d88a4a" opacity="0.65" transform="rotate(15.1 391.8 392.5)"/><rect x="387.5" y="378.5" width="16.3" height="7.8" rx="3.9" fill="#e0702a" opacity="0.95" transform="rotate(35.5 395.6 382.4)"/><path d="M402.0,388.0 C402.5,388.7 403.7,391.2 405.0,392.0 C406.3,392.8 408.7,392.3 410.0,393.0 C411.3,393.7 412.0,395.7 413.0,396.0 C414.0,396.3 415.5,395.2 416.0,395.0" stroke="#c8703a" stroke-width="0.6" fill="none" opacity="1.00"/><path d="M399.0,391.0 C399.8,391.7 402.3,394.2 404.0,395.0 C405.7,395.8 407.3,395.7 409.0,396.0 C410.7,396.3 413.2,396.8 414.0,397.0" stroke="#c8703a" stroke-width="0.5" fill="none" opacity="1.00"/><path d="M404.0,385.0 C404.5,385.8 405.7,389.2 407.0,390.0 C408.3,390.8 410.7,389.3 412.0,390.0 C413.3,390.7 414.5,393.3 415.0,394.0" stroke="#c8703a" stroke-width="0.5" fill="none" opacity="1.00"/><polyline points="399.0,392.4 398.1,390.7 397.5,389.0 397.2,387.2 397.3,385.3 397.7,383.5 398.4,381.8 399.4,380.2 400.6,378.9 402.1,377.8 403.8,377.0 405.6,376.5 407.4,376.3 409.2,376.5 411.0,377.0 412.7,377.8 414.2,378.9 415.4,380.2 416.4,381.8 417.1,383.5 417.5,385.3 417.6,387.2 417.3,389.0" stroke="#1e3268" stroke-width="0.9" fill="none"/><line x1="417.6" y1="387.2" x2="416.9" y2="389.0" stroke="#1e3268" stroke-width="0.9"/><polygon points="415.8,392.4 415.3,388.4 418.6,389.6" fill="#1e3268"/><rect x="382.5" y="404.0" width="22.2" height="7.2" rx="3.6" fill="#eea64a" opacity="1.00" transform="rotate(0.0 393.6 407.6)"/><path d="M404.7,407.6 C405.2,407.4 406.8,406.4 408.0,406.5 C409.2,406.6 410.7,408.4 412.0,408.5 C413.3,408.6 414.7,406.9 416.0,407.0 C417.3,407.1 418.7,408.6 420.0,409.0 C421.3,409.4 423.3,409.2 424.0,409.2" stroke="#eea64a" stroke-width="0.7" fill="none" opacity="1.00"/><rect x="419.8" y="365.0" width="23.2" height="6.8" rx="3.4" fill="#eea64a" opacity="1.00" transform="rotate(90.0 431.4 368.4)"/><path d="M431.4,380.0 C431.6,380.8 432.7,383.3 432.6,385.0 C432.5,386.7 431.0,388.3 430.8,390.0 C430.6,391.7 431.7,393.3 431.5,395.0 C431.3,396.7 429.9,399.2 429.6,400.0" stroke="#eea64a" stroke-width="0.7" fill="none" opacity="1.00"/><rect x="435.8" y="399.6" width="20.1" height="7.0" rx="3.5" fill="#eea64a" opacity="1.00" transform="rotate(128.1 445.8 403.1)"/><path d="M440.5,410.0 C440.2,410.8 439.8,413.7 439.0,415.0 C438.2,416.3 437.0,417.0 436.0,418.0 C435.0,419.0 434.1,419.8 433.0,421.0 C431.9,422.2 429.8,424.5 429.2,425.2" stroke="#eea64a" stroke-width="0.7" fill="none" opacity="1.00"/><path d="M319.3,441.6 C319.4,442.3 319.6,444.4 319.6,446.0 C319.6,447.6 319.6,449.5 319.2,451.0 C318.8,452.5 317.8,453.5 317.0,455.0 C316.2,456.5 314.8,459.2 314.4,460.0" stroke="#c8703a" stroke-width="0.7" fill="none" opacity="1.00"/><path d="M354.5,422.6 C354.4,423.3 354.4,425.6 354.0,427.0 C353.6,428.4 352.4,429.7 352.0,431.0 C351.6,432.3 351.8,433.8 351.5,435.0 C351.2,436.2 350.7,437.5 350.5,438.0" stroke="#c8703a" stroke-width="0.6" fill="none" opacity="1.00"/><path d="M473.3,441.4 C473.4,442.2 473.8,444.6 474.0,446.0 C474.2,447.4 474.7,448.5 474.5,450.0 C474.3,451.5 473.5,453.7 473.0,455.0 C472.5,456.3 471.8,457.5 471.5,458.0" stroke="#c8703a" stroke-width="0.7" fill="none" opacity="1.00"/><polyline points="320.5,460.9 319.6,461.7 318.6,462.4 317.5,462.8 316.2,463.0 315.0,462.9 313.8,462.6 312.8,462.1 311.8,461.4 311.0,460.4 310.4,459.4 310.0,458.2 309.9,457.0 310.0,455.8 310.4,454.6 311.0,453.6 311.8,452.6 312.8,451.9 313.8,451.4 315.0,451.1 316.2,451.0 317.5,451.2 318.6,451.6" stroke="#1e3268" stroke-width="0.9" fill="none"/><line x1="317.5" y1="451.2" x2="317.5" y2="451.2" stroke="#1e3268" stroke-width="0.9"/><polygon points="320.5,453.1 316.5,452.7 318.4,449.7" fill="#1e3268"/><polyline points="357.9,437.6 357.1,438.4 356.1,439.0 355.0,439.4 353.9,439.6 352.8,439.5 351.7,439.3 350.7,438.8 349.8,438.1 349.0,437.2 348.5,436.2 348.1,435.1 348.0,434.0 348.1,432.9 348.5,431.8 349.0,430.8 349.8,429.9 350.7,429.2 351.7,428.7 352.8,428.5 353.9,428.4 355.0,428.6 356.1,429.0" stroke="#1e3268" stroke-width="0.9" fill="none"/><line x1="355.0" y1="428.6" x2="354.9" y2="428.5" stroke="#1e3268" stroke-width="0.9"/><polygon points="357.9,430.4 353.9,430.0 355.8,426.9" fill="#1e3268"/><polyline points="479.2,458.1 478.3,458.9 477.3,459.6 476.2,460.0 474.9,460.2 473.7,460.1 472.5,459.8 471.5,459.3 470.5,458.6 469.7,457.6 469.1,456.6 468.7,455.4 468.6,454.2 468.7,453.0 469.1,451.8 469.7,450.8 470.5,449.8 471.5,449.1 472.5,448.6 473.7,448.3 474.9,448.2 476.2,448.4 477.3,448.8" stroke="#1e3268" stroke-width="0.9" fill="none"/><line x1="476.2" y1="448.4" x2="476.2" y2="448.4" stroke="#1e3268" stroke-width="0.9"/><polygon points="479.2,450.3 475.2,449.9 477.1,446.9" fill="#1e3268"/><rect x="539.0" y="402.8" width="18.6" height="7.4" rx="3.7" fill="#eea64a" opacity="1.00" transform="rotate(0.0 548.3 406.5)" stroke="#d99a48" stroke-width="0.5"/><rect x="558.0" y="402.8" width="18.3" height="7.4" rx="3.7" fill="#eea64a" opacity="1.00" transform="rotate(0.0 567.1 406.5)" stroke="#d99a48" stroke-width="0.5"/><rect x="577.0" y="402.8" width="17.0" height="7.4" rx="3.7" fill="#eea64a" opacity="1.00" transform="rotate(0.0 585.5 406.5)" stroke="#d99a48" stroke-width="0.5"/><rect x="594.6" y="402.8" width="17.6" height="7.4" rx="3.7" fill="#eea64a" opacity="1.00" transform="rotate(0.0 603.4 406.5)" stroke="#d99a48" stroke-width="0.5"/><rect x="639.7" y="403.4" width="19.0" height="7.3" rx="3.6" fill="#eea64a" opacity="1.00" transform="rotate(0.0 649.2 407.0)"/><rect x="611.2" y="354.6" width="23.6" height="7.3" rx="3.6" fill="#e4d08a" opacity="0.80" transform="rotate(90.0 623.0 358.2)"/><path d="M623.0,370.0 C623.2,371.0 624.2,374.0 624.0,376.0 C623.8,378.0 622.2,380.0 622.0,382.0 C621.8,384.0 622.8,387.0 623.0,388.0" stroke="#c8b070" stroke-width="0.5" fill="none" opacity="0.80"/><rect x="629.7" y="397.0" width="17.8" height="7.3" rx="3.6" fill="#e4d08a" opacity="0.80" transform="rotate(121.2 638.6 400.6)"/><path d="M635.0,407.5 C634.5,407.8 633.2,408.9 632.0,409.0 C630.8,409.1 629.2,407.8 628.0,408.0 C626.8,408.2 625.5,409.7 625.0,410.0" stroke="#c8b070" stroke-width="0.5" fill="none" opacity="0.80"/><rect x="627.0" y="334.7" width="22.6" height="7.6" rx="3.8" fill="#e0702a" opacity="1.00" transform="rotate(109.1 638.3 338.5)"/><path d="M636.6,348.4 C636.3,349.3 635.5,352.1 635.0,354.0 C634.5,355.9 634.0,358.0 633.5,360.0 C633.0,362.0 632.4,363.8 632.0,366.0 C631.6,368.2 631.2,371.8 631.0,373.0" stroke="#c8703a" stroke-width="0.6" fill="none" opacity="1.00"/><path d="M631.0,374.2 Q640.0,372.0 642.2,359.5" stroke="#1e3268" stroke-width="0.9" fill="none"/><polygon points="642.7,356.3 643.5,359.7 640.8,359.2" fill="#1e3268"/><path d="M645.4,391.5 Q657.0,393.0 658.2,401.2" stroke="#1e3268" stroke-width="0.9" fill="none"/><polygon points="658.7,404.4 656.8,401.4 659.6,401.0" fill="#1e3268"/><line x1="321.1" y1="560.6" x2="325.5" y2="535.2" stroke="#3c5c98" stroke-width="0.8"/><polygon points="326.1,532.0 326.8,535.4 324.3,534.9" fill="#3c5c98"/><line x1="353.0" y1="538.7" x2="354.9" y2="520.9" stroke="#3c5c98" stroke-width="0.8"/><polygon points="355.2,517.7 356.2,521.0 353.6,520.7" fill="#3c5c98"/><line x1="467.5" y1="563.3" x2="464.9" y2="535.8" stroke="#3c5c98" stroke-width="0.8"/><polygon points="464.6,532.6 466.2,535.7 463.6,535.9" fill="#3c5c98"/><rect x="308.3" y="571.6" width="22.2" height="7.5" rx="3.8" fill="#5d3e9b" opacity="1.00" transform="rotate(104.6 319.4 575.4)"/><rect x="339.3" y="549.8" width="22.1" height="7.5" rx="3.8" fill="#5d3e9b" opacity="1.00" transform="rotate(100.1 350.4 553.5)"/><rect x="459.3" y="573.4" width="22.7" height="7.5" rx="3.8" fill="#5d3e9b" opacity="1.00" transform="rotate(79.8 470.6 577.1)"/><rect x="383.8" y="550.4" width="21.9" height="8.2" rx="4.1" fill="#8f6dba" opacity="0.90" transform="rotate(0.0 394.8 554.5)"/><rect x="412.8" y="526.2" width="25.3" height="7.6" rx="3.8" fill="#8f6dba" opacity="0.90" transform="rotate(90.0 425.5 530.0)"/><rect x="431.2" y="548.5" width="24.3" height="8.0" rx="4.0" fill="#8f6dba" opacity="0.90" transform="rotate(114.3 443.3 552.5)"/><rect x="559.4" y="550.0" width="18.6" height="8.0" rx="4.0" fill="#8f6dba" opacity="0.85" transform="rotate(0.0 568.7 554.0)" stroke="#7a58b0" stroke-width="0.5"/><rect x="578.3" y="550.0" width="19.2" height="8.0" rx="4.0" fill="#8f6dba" opacity="0.85" transform="rotate(0.0 587.9 554.0)" stroke="#7a58b0" stroke-width="0.5"/><rect x="614.1" y="526.0" width="26.6" height="7.4" rx="3.7" fill="#8f6dba" opacity="0.80" transform="rotate(90.0 627.4 529.7)"/><rect x="631.2" y="548.6" width="22.9" height="7.4" rx="3.7" fill="#8f6dba" opacity="0.80" transform="rotate(122.0 642.7 552.3)"/><rect x="634.2" y="483.8" width="25.3" height="7.2" rx="3.6" fill="#5d3e9b" opacity="1.00" transform="rotate(126.3 646.9 487.4)"/><rect x="659.9" y="513.3" width="25.6" height="7.6" rx="3.8" fill="#5d3e9b" opacity="1.00" transform="rotate(119.0 672.7 517.1)"/><path d="M633.9,518.0 Q643.0,515.0 645.0,504.6" stroke="#1e3268" stroke-width="0.9" fill="none"/><polygon points="645.6,501.5 646.4,504.9 643.6,504.4" fill="#1e3268"/><path d="M655.8,547.2 Q664.0,546.0 666.6,536.6" stroke="#1e3268" stroke-width="0.9" fill="none"/><polygon points="667.5,533.5 668.0,537.0 665.3,536.2" fill="#1e3268"/><text x="294.6" y="323.8" class="pl" style="font-size:13px">d</text><text x="307.3" y="346.8" class="dt" fill="#f48b55" style="fill:#f48b55">WT</text><text x="480.3" y="340.5" class="dt" style="font-size:10.3px">time</text><line x1="448" y1="347.2" x2="528" y2="347.2" stroke="#222" stroke-width="1.7"/><path d="M521.5,342.8 L531.4,347.2 L521.5,351.6 L524,347.2 Z" fill="#222"/><text x="363.1" y="467.6" class="dti">Attachment</text><text x="591.6" y="467.6" text-anchor="middle" class="dti">Detachment</text><text x="307.0" y="495.8" class="dt" style="fill:#a8509c">Δ<tspan font-style="italic">mot</tspan>ABCD</text>
</svg>
</body></html>
